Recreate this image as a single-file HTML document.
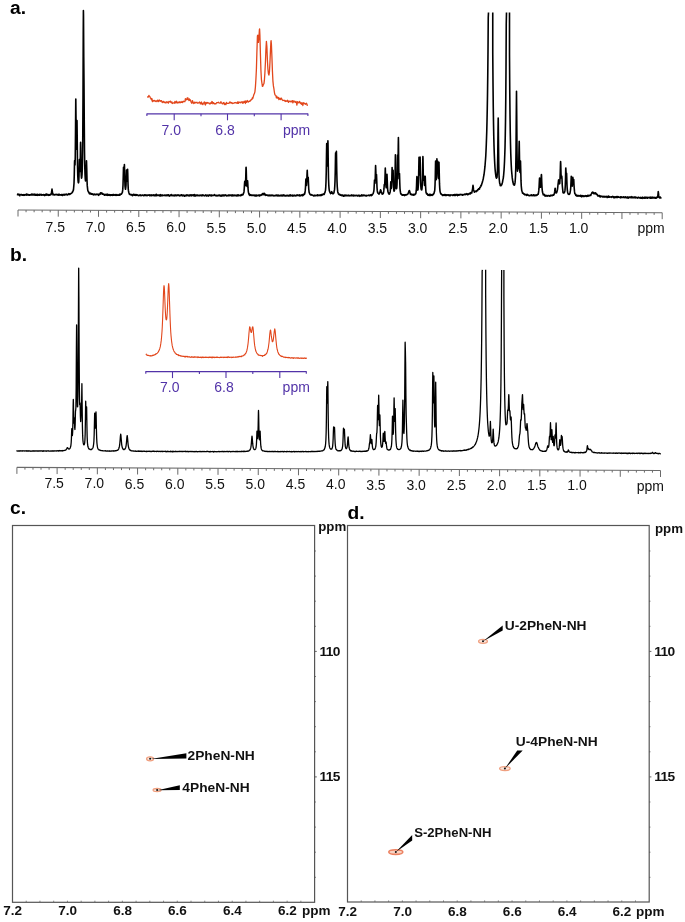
<!DOCTYPE html><html><head><meta charset="utf-8"><style>html,body{margin:0;padding:0;background:#fff}svg{display:block;will-change:transform}text{font-family:"Liberation Sans",sans-serif}</style></head><body>
<svg width="685" height="922" viewBox="0 0 685 922">
<text x="10.1" y="13.7" font-size="19.2" font-weight="bold" fill="#000">a.</text>
<text x="10.1" y="260.8" font-size="19.2" font-weight="bold" fill="#000">b.</text>
<text x="10.1" y="514.4" font-size="19.2" font-weight="bold" fill="#000">c.</text>
<text x="347.5" y="518.9" font-size="19.2" font-weight="bold" fill="#000">d.</text>
<line x1="18.00" y1="210.00" x2="662.20" y2="212.70" stroke="#6a6a6a" stroke-width="1.1"/>
<line x1="18.00" y1="210.00" x2="18.00" y2="216.50" stroke="#6a6a6a" stroke-width="1"/>
<line x1="26.05" y1="210.03" x2="26.05" y2="212.23" stroke="#6a6a6a" stroke-width="1"/>
<line x1="34.11" y1="210.07" x2="34.11" y2="212.27" stroke="#6a6a6a" stroke-width="1"/>
<line x1="42.16" y1="210.10" x2="42.16" y2="212.30" stroke="#6a6a6a" stroke-width="1"/>
<line x1="50.21" y1="210.13" x2="50.21" y2="212.33" stroke="#6a6a6a" stroke-width="1"/>
<line x1="58.26" y1="210.17" x2="58.26" y2="216.67" stroke="#6a6a6a" stroke-width="1"/>
<text x="55.26" y="232.10" font-size="14" text-anchor="middle" fill="#111">7.5</text>
<line x1="66.31" y1="210.20" x2="66.31" y2="212.40" stroke="#6a6a6a" stroke-width="1"/>
<line x1="74.37" y1="210.24" x2="74.37" y2="212.44" stroke="#6a6a6a" stroke-width="1"/>
<line x1="82.42" y1="210.27" x2="82.42" y2="212.47" stroke="#6a6a6a" stroke-width="1"/>
<line x1="90.47" y1="210.30" x2="90.47" y2="212.50" stroke="#6a6a6a" stroke-width="1"/>
<line x1="98.53" y1="210.34" x2="98.53" y2="216.84" stroke="#6a6a6a" stroke-width="1"/>
<text x="95.53" y="232.20" font-size="14" text-anchor="middle" fill="#111">7.0</text>
<line x1="106.58" y1="210.37" x2="106.58" y2="212.57" stroke="#6a6a6a" stroke-width="1"/>
<line x1="114.63" y1="210.41" x2="114.63" y2="212.60" stroke="#6a6a6a" stroke-width="1"/>
<line x1="122.68" y1="210.44" x2="122.68" y2="212.64" stroke="#6a6a6a" stroke-width="1"/>
<line x1="130.74" y1="210.47" x2="130.74" y2="212.67" stroke="#6a6a6a" stroke-width="1"/>
<line x1="138.79" y1="210.51" x2="138.79" y2="217.01" stroke="#6a6a6a" stroke-width="1"/>
<text x="135.79" y="232.30" font-size="14" text-anchor="middle" fill="#111">6.5</text>
<line x1="146.84" y1="210.54" x2="146.84" y2="212.74" stroke="#6a6a6a" stroke-width="1"/>
<line x1="154.89" y1="210.57" x2="154.89" y2="212.77" stroke="#6a6a6a" stroke-width="1"/>
<line x1="162.94" y1="210.61" x2="162.94" y2="212.81" stroke="#6a6a6a" stroke-width="1"/>
<line x1="171.00" y1="210.64" x2="171.00" y2="212.84" stroke="#6a6a6a" stroke-width="1"/>
<line x1="179.05" y1="210.68" x2="179.05" y2="217.18" stroke="#6a6a6a" stroke-width="1"/>
<text x="176.05" y="232.40" font-size="14" text-anchor="middle" fill="#111">6.0</text>
<line x1="187.10" y1="210.71" x2="187.10" y2="212.91" stroke="#6a6a6a" stroke-width="1"/>
<line x1="195.16" y1="210.74" x2="195.16" y2="212.94" stroke="#6a6a6a" stroke-width="1"/>
<line x1="203.21" y1="210.78" x2="203.21" y2="212.98" stroke="#6a6a6a" stroke-width="1"/>
<line x1="211.26" y1="210.81" x2="211.26" y2="213.01" stroke="#6a6a6a" stroke-width="1"/>
<line x1="219.31" y1="210.84" x2="219.31" y2="217.34" stroke="#6a6a6a" stroke-width="1"/>
<text x="216.31" y="232.50" font-size="14" text-anchor="middle" fill="#111">5.5</text>
<line x1="227.37" y1="210.88" x2="227.37" y2="213.08" stroke="#6a6a6a" stroke-width="1"/>
<line x1="235.42" y1="210.91" x2="235.42" y2="213.11" stroke="#6a6a6a" stroke-width="1"/>
<line x1="243.47" y1="210.94" x2="243.47" y2="213.14" stroke="#6a6a6a" stroke-width="1"/>
<line x1="251.52" y1="210.98" x2="251.52" y2="213.18" stroke="#6a6a6a" stroke-width="1"/>
<line x1="259.57" y1="211.01" x2="259.57" y2="217.51" stroke="#6a6a6a" stroke-width="1"/>
<text x="256.57" y="232.60" font-size="14" text-anchor="middle" fill="#111">5.0</text>
<line x1="267.63" y1="211.05" x2="267.63" y2="213.25" stroke="#6a6a6a" stroke-width="1"/>
<line x1="275.68" y1="211.08" x2="275.68" y2="213.28" stroke="#6a6a6a" stroke-width="1"/>
<line x1="283.73" y1="211.11" x2="283.73" y2="213.31" stroke="#6a6a6a" stroke-width="1"/>
<line x1="291.79" y1="211.15" x2="291.79" y2="213.35" stroke="#6a6a6a" stroke-width="1"/>
<line x1="299.84" y1="211.18" x2="299.84" y2="217.68" stroke="#6a6a6a" stroke-width="1"/>
<text x="296.84" y="232.70" font-size="14" text-anchor="middle" fill="#111">4.5</text>
<line x1="307.89" y1="211.22" x2="307.89" y2="213.41" stroke="#6a6a6a" stroke-width="1"/>
<line x1="315.94" y1="211.25" x2="315.94" y2="213.45" stroke="#6a6a6a" stroke-width="1"/>
<line x1="324.00" y1="211.28" x2="324.00" y2="213.48" stroke="#6a6a6a" stroke-width="1"/>
<line x1="332.05" y1="211.32" x2="332.05" y2="213.52" stroke="#6a6a6a" stroke-width="1"/>
<line x1="340.10" y1="211.35" x2="340.10" y2="217.85" stroke="#6a6a6a" stroke-width="1"/>
<text x="337.10" y="232.80" font-size="14" text-anchor="middle" fill="#111">4.0</text>
<line x1="348.15" y1="211.38" x2="348.15" y2="213.58" stroke="#6a6a6a" stroke-width="1"/>
<line x1="356.21" y1="211.42" x2="356.21" y2="213.62" stroke="#6a6a6a" stroke-width="1"/>
<line x1="364.26" y1="211.45" x2="364.26" y2="213.65" stroke="#6a6a6a" stroke-width="1"/>
<line x1="372.31" y1="211.48" x2="372.31" y2="213.68" stroke="#6a6a6a" stroke-width="1"/>
<line x1="380.36" y1="211.52" x2="380.36" y2="218.02" stroke="#6a6a6a" stroke-width="1"/>
<text x="377.36" y="232.90" font-size="14" text-anchor="middle" fill="#111">3.5</text>
<line x1="388.42" y1="211.55" x2="388.42" y2="213.75" stroke="#6a6a6a" stroke-width="1"/>
<line x1="396.47" y1="211.59" x2="396.47" y2="213.79" stroke="#6a6a6a" stroke-width="1"/>
<line x1="404.52" y1="211.62" x2="404.52" y2="213.82" stroke="#6a6a6a" stroke-width="1"/>
<line x1="412.57" y1="211.65" x2="412.57" y2="213.85" stroke="#6a6a6a" stroke-width="1"/>
<line x1="420.63" y1="211.69" x2="420.63" y2="218.19" stroke="#6a6a6a" stroke-width="1"/>
<text x="417.63" y="233.00" font-size="14" text-anchor="middle" fill="#111">3.0</text>
<line x1="428.68" y1="211.72" x2="428.68" y2="213.92" stroke="#6a6a6a" stroke-width="1"/>
<line x1="436.73" y1="211.75" x2="436.73" y2="213.95" stroke="#6a6a6a" stroke-width="1"/>
<line x1="444.78" y1="211.79" x2="444.78" y2="213.99" stroke="#6a6a6a" stroke-width="1"/>
<line x1="452.84" y1="211.82" x2="452.84" y2="214.02" stroke="#6a6a6a" stroke-width="1"/>
<line x1="460.89" y1="211.86" x2="460.89" y2="218.36" stroke="#6a6a6a" stroke-width="1"/>
<text x="457.89" y="233.10" font-size="14" text-anchor="middle" fill="#111">2.5</text>
<line x1="468.94" y1="211.89" x2="468.94" y2="214.09" stroke="#6a6a6a" stroke-width="1"/>
<line x1="476.99" y1="211.92" x2="476.99" y2="214.12" stroke="#6a6a6a" stroke-width="1"/>
<line x1="485.05" y1="211.96" x2="485.05" y2="214.16" stroke="#6a6a6a" stroke-width="1"/>
<line x1="493.10" y1="211.99" x2="493.10" y2="214.19" stroke="#6a6a6a" stroke-width="1"/>
<line x1="501.15" y1="212.02" x2="501.15" y2="218.52" stroke="#6a6a6a" stroke-width="1"/>
<text x="498.15" y="233.20" font-size="14" text-anchor="middle" fill="#111">2.0</text>
<line x1="509.20" y1="212.06" x2="509.20" y2="214.26" stroke="#6a6a6a" stroke-width="1"/>
<line x1="517.25" y1="212.09" x2="517.25" y2="214.29" stroke="#6a6a6a" stroke-width="1"/>
<line x1="525.31" y1="212.13" x2="525.31" y2="214.33" stroke="#6a6a6a" stroke-width="1"/>
<line x1="533.36" y1="212.16" x2="533.36" y2="214.36" stroke="#6a6a6a" stroke-width="1"/>
<line x1="541.41" y1="212.19" x2="541.41" y2="218.69" stroke="#6a6a6a" stroke-width="1"/>
<text x="538.41" y="233.30" font-size="14" text-anchor="middle" fill="#111">1.5</text>
<line x1="549.47" y1="212.23" x2="549.47" y2="214.43" stroke="#6a6a6a" stroke-width="1"/>
<line x1="557.52" y1="212.26" x2="557.52" y2="214.46" stroke="#6a6a6a" stroke-width="1"/>
<line x1="565.57" y1="212.29" x2="565.57" y2="214.49" stroke="#6a6a6a" stroke-width="1"/>
<line x1="573.62" y1="212.33" x2="573.62" y2="214.53" stroke="#6a6a6a" stroke-width="1"/>
<line x1="581.67" y1="212.36" x2="581.67" y2="218.86" stroke="#6a6a6a" stroke-width="1"/>
<text x="578.67" y="233.40" font-size="14" text-anchor="middle" fill="#111">1.0</text>
<line x1="589.73" y1="212.40" x2="589.73" y2="214.60" stroke="#6a6a6a" stroke-width="1"/>
<line x1="597.78" y1="212.43" x2="597.78" y2="214.63" stroke="#6a6a6a" stroke-width="1"/>
<line x1="605.83" y1="212.46" x2="605.83" y2="214.66" stroke="#6a6a6a" stroke-width="1"/>
<line x1="613.88" y1="212.50" x2="613.88" y2="214.70" stroke="#6a6a6a" stroke-width="1"/>
<line x1="621.94" y1="212.53" x2="621.94" y2="219.03" stroke="#6a6a6a" stroke-width="1"/>
<line x1="629.99" y1="212.56" x2="629.99" y2="214.76" stroke="#6a6a6a" stroke-width="1"/>
<line x1="638.04" y1="212.60" x2="638.04" y2="214.80" stroke="#6a6a6a" stroke-width="1"/>
<line x1="646.10" y1="212.63" x2="646.10" y2="214.83" stroke="#6a6a6a" stroke-width="1"/>
<line x1="654.15" y1="212.67" x2="654.15" y2="214.87" stroke="#6a6a6a" stroke-width="1"/>
<line x1="662.20" y1="212.70" x2="662.20" y2="219.20" stroke="#6a6a6a" stroke-width="1"/>
<text x="637.5" y="233.1" font-size="14" fill="#111">ppm</text>
<line x1="16.90" y1="467.40" x2="660.50" y2="470.50" stroke="#6a6a6a" stroke-width="1.1"/>
<line x1="16.90" y1="467.40" x2="16.90" y2="473.90" stroke="#6a6a6a" stroke-width="1"/>
<line x1="24.95" y1="467.44" x2="24.95" y2="469.64" stroke="#6a6a6a" stroke-width="1"/>
<line x1="32.99" y1="467.48" x2="32.99" y2="469.68" stroke="#6a6a6a" stroke-width="1"/>
<line x1="41.03" y1="467.52" x2="41.03" y2="469.72" stroke="#6a6a6a" stroke-width="1"/>
<line x1="49.08" y1="467.55" x2="49.08" y2="469.75" stroke="#6a6a6a" stroke-width="1"/>
<line x1="57.12" y1="467.59" x2="57.12" y2="474.09" stroke="#6a6a6a" stroke-width="1"/>
<text x="54.12" y="488.17" font-size="14" text-anchor="middle" fill="#111">7.5</text>
<line x1="65.17" y1="467.63" x2="65.17" y2="469.83" stroke="#6a6a6a" stroke-width="1"/>
<line x1="73.22" y1="467.67" x2="73.22" y2="469.87" stroke="#6a6a6a" stroke-width="1"/>
<line x1="81.26" y1="467.71" x2="81.26" y2="469.91" stroke="#6a6a6a" stroke-width="1"/>
<line x1="89.31" y1="467.75" x2="89.31" y2="469.95" stroke="#6a6a6a" stroke-width="1"/>
<line x1="97.35" y1="467.79" x2="97.35" y2="474.29" stroke="#6a6a6a" stroke-width="1"/>
<text x="94.35" y="488.34" font-size="14" text-anchor="middle" fill="#111">7.0</text>
<line x1="105.40" y1="467.83" x2="105.40" y2="470.03" stroke="#6a6a6a" stroke-width="1"/>
<line x1="113.44" y1="467.87" x2="113.44" y2="470.06" stroke="#6a6a6a" stroke-width="1"/>
<line x1="121.49" y1="467.90" x2="121.49" y2="470.10" stroke="#6a6a6a" stroke-width="1"/>
<line x1="129.53" y1="467.94" x2="129.53" y2="470.14" stroke="#6a6a6a" stroke-width="1"/>
<line x1="137.57" y1="467.98" x2="137.57" y2="474.48" stroke="#6a6a6a" stroke-width="1"/>
<text x="134.57" y="488.51" font-size="14" text-anchor="middle" fill="#111">6.5</text>
<line x1="145.62" y1="468.02" x2="145.62" y2="470.22" stroke="#6a6a6a" stroke-width="1"/>
<line x1="153.67" y1="468.06" x2="153.67" y2="470.26" stroke="#6a6a6a" stroke-width="1"/>
<line x1="161.71" y1="468.10" x2="161.71" y2="470.30" stroke="#6a6a6a" stroke-width="1"/>
<line x1="169.75" y1="468.14" x2="169.75" y2="470.34" stroke="#6a6a6a" stroke-width="1"/>
<line x1="177.80" y1="468.18" x2="177.80" y2="474.68" stroke="#6a6a6a" stroke-width="1"/>
<text x="174.80" y="488.68" font-size="14" text-anchor="middle" fill="#111">6.0</text>
<line x1="185.84" y1="468.21" x2="185.84" y2="470.41" stroke="#6a6a6a" stroke-width="1"/>
<line x1="193.89" y1="468.25" x2="193.89" y2="470.45" stroke="#6a6a6a" stroke-width="1"/>
<line x1="201.94" y1="468.29" x2="201.94" y2="470.49" stroke="#6a6a6a" stroke-width="1"/>
<line x1="209.98" y1="468.33" x2="209.98" y2="470.53" stroke="#6a6a6a" stroke-width="1"/>
<line x1="218.03" y1="468.37" x2="218.03" y2="474.87" stroke="#6a6a6a" stroke-width="1"/>
<text x="215.03" y="488.84" font-size="14" text-anchor="middle" fill="#111">5.5</text>
<line x1="226.07" y1="468.41" x2="226.07" y2="470.61" stroke="#6a6a6a" stroke-width="1"/>
<line x1="234.12" y1="468.45" x2="234.12" y2="470.65" stroke="#6a6a6a" stroke-width="1"/>
<line x1="242.16" y1="468.49" x2="242.16" y2="470.69" stroke="#6a6a6a" stroke-width="1"/>
<line x1="250.21" y1="468.52" x2="250.21" y2="470.72" stroke="#6a6a6a" stroke-width="1"/>
<line x1="258.25" y1="468.56" x2="258.25" y2="475.06" stroke="#6a6a6a" stroke-width="1"/>
<text x="255.25" y="489.01" font-size="14" text-anchor="middle" fill="#111">5.0</text>
<line x1="266.30" y1="468.60" x2="266.30" y2="470.80" stroke="#6a6a6a" stroke-width="1"/>
<line x1="274.34" y1="468.64" x2="274.34" y2="470.84" stroke="#6a6a6a" stroke-width="1"/>
<line x1="282.38" y1="468.68" x2="282.38" y2="470.88" stroke="#6a6a6a" stroke-width="1"/>
<line x1="290.43" y1="468.72" x2="290.43" y2="470.92" stroke="#6a6a6a" stroke-width="1"/>
<line x1="298.47" y1="468.76" x2="298.47" y2="475.26" stroke="#6a6a6a" stroke-width="1"/>
<text x="295.47" y="489.18" font-size="14" text-anchor="middle" fill="#111">4.5</text>
<line x1="306.52" y1="468.79" x2="306.52" y2="470.99" stroke="#6a6a6a" stroke-width="1"/>
<line x1="314.56" y1="468.83" x2="314.56" y2="471.03" stroke="#6a6a6a" stroke-width="1"/>
<line x1="322.61" y1="468.87" x2="322.61" y2="471.07" stroke="#6a6a6a" stroke-width="1"/>
<line x1="330.65" y1="468.91" x2="330.65" y2="471.11" stroke="#6a6a6a" stroke-width="1"/>
<line x1="338.70" y1="468.95" x2="338.70" y2="475.45" stroke="#6a6a6a" stroke-width="1"/>
<text x="335.70" y="489.35" font-size="14" text-anchor="middle" fill="#111">4.0</text>
<line x1="346.75" y1="468.99" x2="346.75" y2="471.19" stroke="#6a6a6a" stroke-width="1"/>
<line x1="354.79" y1="469.03" x2="354.79" y2="471.23" stroke="#6a6a6a" stroke-width="1"/>
<line x1="362.83" y1="469.07" x2="362.83" y2="471.27" stroke="#6a6a6a" stroke-width="1"/>
<line x1="370.88" y1="469.11" x2="370.88" y2="471.31" stroke="#6a6a6a" stroke-width="1"/>
<line x1="378.92" y1="469.14" x2="378.92" y2="475.64" stroke="#6a6a6a" stroke-width="1"/>
<text x="375.92" y="489.52" font-size="14" text-anchor="middle" fill="#111">3.5</text>
<line x1="386.97" y1="469.18" x2="386.97" y2="471.38" stroke="#6a6a6a" stroke-width="1"/>
<line x1="395.01" y1="469.22" x2="395.01" y2="471.42" stroke="#6a6a6a" stroke-width="1"/>
<line x1="403.06" y1="469.26" x2="403.06" y2="471.46" stroke="#6a6a6a" stroke-width="1"/>
<line x1="411.11" y1="469.30" x2="411.11" y2="471.50" stroke="#6a6a6a" stroke-width="1"/>
<line x1="419.15" y1="469.34" x2="419.15" y2="475.84" stroke="#6a6a6a" stroke-width="1"/>
<text x="416.15" y="489.69" font-size="14" text-anchor="middle" fill="#111">3.0</text>
<line x1="427.19" y1="469.38" x2="427.19" y2="471.58" stroke="#6a6a6a" stroke-width="1"/>
<line x1="435.24" y1="469.42" x2="435.24" y2="471.62" stroke="#6a6a6a" stroke-width="1"/>
<line x1="443.29" y1="469.45" x2="443.29" y2="471.65" stroke="#6a6a6a" stroke-width="1"/>
<line x1="451.33" y1="469.49" x2="451.33" y2="471.69" stroke="#6a6a6a" stroke-width="1"/>
<line x1="459.38" y1="469.53" x2="459.38" y2="476.03" stroke="#6a6a6a" stroke-width="1"/>
<text x="456.38" y="489.86" font-size="14" text-anchor="middle" fill="#111">2.5</text>
<line x1="467.42" y1="469.57" x2="467.42" y2="471.77" stroke="#6a6a6a" stroke-width="1"/>
<line x1="475.47" y1="469.61" x2="475.47" y2="471.81" stroke="#6a6a6a" stroke-width="1"/>
<line x1="483.51" y1="469.65" x2="483.51" y2="471.85" stroke="#6a6a6a" stroke-width="1"/>
<line x1="491.56" y1="469.69" x2="491.56" y2="471.89" stroke="#6a6a6a" stroke-width="1"/>
<line x1="499.60" y1="469.73" x2="499.60" y2="476.23" stroke="#6a6a6a" stroke-width="1"/>
<text x="496.60" y="490.02" font-size="14" text-anchor="middle" fill="#111">2.0</text>
<line x1="507.64" y1="469.76" x2="507.64" y2="471.96" stroke="#6a6a6a" stroke-width="1"/>
<line x1="515.69" y1="469.80" x2="515.69" y2="472.00" stroke="#6a6a6a" stroke-width="1"/>
<line x1="523.74" y1="469.84" x2="523.74" y2="472.04" stroke="#6a6a6a" stroke-width="1"/>
<line x1="531.78" y1="469.88" x2="531.78" y2="472.08" stroke="#6a6a6a" stroke-width="1"/>
<line x1="539.82" y1="469.92" x2="539.82" y2="476.42" stroke="#6a6a6a" stroke-width="1"/>
<text x="536.82" y="490.19" font-size="14" text-anchor="middle" fill="#111">1.5</text>
<line x1="547.87" y1="469.96" x2="547.87" y2="472.16" stroke="#6a6a6a" stroke-width="1"/>
<line x1="555.92" y1="470.00" x2="555.92" y2="472.20" stroke="#6a6a6a" stroke-width="1"/>
<line x1="563.96" y1="470.04" x2="563.96" y2="472.24" stroke="#6a6a6a" stroke-width="1"/>
<line x1="572.00" y1="470.07" x2="572.00" y2="472.27" stroke="#6a6a6a" stroke-width="1"/>
<line x1="580.05" y1="470.11" x2="580.05" y2="476.61" stroke="#6a6a6a" stroke-width="1"/>
<text x="577.05" y="490.36" font-size="14" text-anchor="middle" fill="#111">1.0</text>
<line x1="588.09" y1="470.15" x2="588.09" y2="472.35" stroke="#6a6a6a" stroke-width="1"/>
<line x1="596.14" y1="470.19" x2="596.14" y2="472.39" stroke="#6a6a6a" stroke-width="1"/>
<line x1="604.19" y1="470.23" x2="604.19" y2="472.43" stroke="#6a6a6a" stroke-width="1"/>
<line x1="612.23" y1="470.27" x2="612.23" y2="472.47" stroke="#6a6a6a" stroke-width="1"/>
<line x1="620.27" y1="470.31" x2="620.27" y2="476.81" stroke="#6a6a6a" stroke-width="1"/>
<line x1="628.32" y1="470.35" x2="628.32" y2="472.55" stroke="#6a6a6a" stroke-width="1"/>
<line x1="636.37" y1="470.38" x2="636.37" y2="472.58" stroke="#6a6a6a" stroke-width="1"/>
<line x1="644.41" y1="470.42" x2="644.41" y2="472.62" stroke="#6a6a6a" stroke-width="1"/>
<line x1="652.46" y1="470.46" x2="652.46" y2="472.66" stroke="#6a6a6a" stroke-width="1"/>
<line x1="660.50" y1="470.50" x2="660.50" y2="477.00" stroke="#6a6a6a" stroke-width="1"/>
<text x="636.8" y="490.9" font-size="14" fill="#111">ppm</text>
<path d="M17.50,195.39 17.75,194.01 18.00,194.90 18.25,194.60 18.50,194.64 18.75,194.71 19.00,194.17 19.25,194.71 19.50,194.52 19.75,195.78 20.00,194.85 20.25,194.68 20.50,194.70 20.75,194.58 21.00,194.47 21.25,194.67 21.50,194.93 21.75,194.71 22.00,195.07 22.25,194.73 22.50,194.79 22.75,195.25 23.00,194.95 23.25,194.64 23.50,194.74 23.75,194.95 24.00,195.37 24.25,194.71 24.50,194.72 24.75,195.09 25.00,194.53 25.25,194.71 25.50,195.06 25.75,194.97 26.00,194.82 26.25,195.00 26.50,193.95 26.75,195.10 27.00,194.51 27.25,194.30 27.50,194.88 27.75,195.01 28.00,194.67 28.25,194.48 28.50,194.81 28.75,194.79 29.00,195.23 29.25,195.03 29.50,194.86 29.75,195.14 30.00,194.74 30.25,194.53 30.50,194.98 30.75,194.98 31.00,194.74 31.25,194.57 31.50,194.88 31.75,194.06 32.00,195.02 32.25,194.96 32.50,194.32 32.75,194.83 33.00,194.52 33.25,195.04 33.50,194.20 33.75,194.54 34.00,195.03 34.25,195.16 34.50,194.17 34.75,194.67 35.00,194.91 35.25,194.63 35.50,195.29 35.75,194.46 36.00,194.92 36.25,194.50 36.50,195.24 36.75,194.81 37.00,194.71 37.25,194.30 37.50,195.32 37.75,195.05 38.00,195.05 38.25,195.16 38.50,194.92 38.75,194.63 39.00,194.58 39.25,194.58 39.50,195.23 39.75,194.38 40.00,194.64 40.25,194.72 40.50,194.89 40.75,194.99 41.00,194.45 41.25,194.30 41.50,194.82 41.75,195.19 42.00,195.05 42.25,194.89 42.50,194.73 42.75,194.91 43.00,194.75 43.25,195.06 43.50,194.58 43.75,194.86 44.00,194.78 44.25,194.98 44.50,194.88 44.75,195.58 45.00,195.26 45.25,195.26 45.50,194.20 45.75,194.71 46.00,194.63 46.25,194.97 46.50,194.12 46.75,195.16 47.00,195.12 47.25,194.41 47.50,194.50 47.75,194.55 48.00,194.80 48.25,194.97 48.50,195.38 48.75,194.70 49.00,194.98 49.25,194.78 49.50,195.24 49.75,194.91 50.00,195.06 50.25,194.28 50.50,194.47 50.75,194.16 51.00,194.64 51.25,193.98 51.50,192.82 51.75,190.83 52.00,189.15 52.25,190.75 52.50,192.62 52.75,193.92 53.00,194.92 53.25,194.32 53.50,194.35 53.75,194.24 54.00,194.24 54.25,194.83 54.50,194.95 54.75,194.72 55.00,194.83 55.25,194.77 55.50,194.78 55.75,194.29 56.00,194.62 56.25,194.79 56.50,194.52 56.75,194.62 57.00,194.51 57.25,194.66 57.50,195.02 57.75,194.64 58.00,194.71 58.25,195.00 58.50,194.95 58.75,195.26 59.00,194.12 59.25,195.00 59.50,194.60 59.75,194.78 60.00,194.99 60.25,195.06 60.50,195.04 60.75,194.77 61.00,195.20 61.25,194.63 61.50,194.67 61.75,194.95 62.00,194.53 62.25,195.34 62.50,194.99 62.75,195.33 63.00,194.66 63.25,194.55 63.50,194.71 63.75,194.87 64.00,194.46 64.25,194.74 64.50,194.61 64.75,195.09 65.00,194.39 65.25,194.89 65.50,194.37 65.75,194.26 66.00,194.32 66.25,194.16 66.50,194.54 66.75,194.79 67.00,194.50 67.25,194.62 67.50,194.90 67.75,194.46 68.00,194.41 68.25,194.23 68.50,193.80 68.75,194.47 69.00,193.67 69.25,194.34 69.50,194.09 69.75,194.37 70.00,193.94 70.25,193.64 70.50,193.91 70.75,193.53 71.00,193.53 71.25,193.46 71.50,193.25 71.75,193.05 72.00,192.63 72.25,192.54 72.50,191.61 72.75,191.75 73.00,190.83 73.25,190.68 73.50,189.48 73.75,186.50 74.00,183.48 74.25,175.99 74.50,163.23 74.60,160.66 74.75,161.73 75.00,164.85 75.25,157.57 75.50,133.38 75.75,101.09 75.80,98.93 76.00,116.45 76.25,143.56 76.50,149.09 76.75,135.72 77.00,120.48 77.25,141.86 77.50,165.00 77.75,175.45 78.00,180.13 78.25,182.37 78.50,182.87 78.75,181.81 79.00,175.57 79.25,164.11 79.40,159.45 79.50,160.79 79.75,170.70 80.00,171.55 80.25,163.56 80.50,145.30 80.60,142.19 80.75,148.65 81.00,167.63 81.25,175.52 81.50,178.19 81.75,177.53 82.00,174.89 82.25,169.67 82.50,159.30 82.75,138.97 83.00,98.82 83.25,34.21 83.40,10.61 83.50,15.26 83.75,56.26 84.00,83.97 84.25,121.51 84.50,150.96 84.75,166.09 85.00,174.00 85.25,178.61 85.50,180.88 85.75,179.97 86.00,176.55 86.25,167.93 86.50,160.87 86.75,168.98 87.00,179.95 87.25,185.65 87.50,187.89 87.75,190.22 88.00,190.97 88.25,191.36 88.50,192.10 88.75,191.97 89.00,192.57 89.25,193.53 89.50,192.92 89.75,193.91 90.00,193.48 90.25,193.93 90.50,193.75 90.75,193.16 91.00,193.74 91.25,194.04 91.50,193.71 91.75,193.71 92.00,194.27 92.25,194.02 92.50,193.74 92.75,194.09 93.00,194.59 93.25,194.22 93.50,194.67 93.75,194.87 94.00,194.45 94.25,194.12 94.50,194.09 94.75,194.49 95.00,194.78 95.25,194.61 95.50,194.70 95.75,194.41 96.00,194.65 96.25,194.42 96.50,194.47 96.75,194.18 97.00,194.09 97.25,194.41 97.50,194.22 97.75,194.25 98.00,194.72 98.25,194.47 98.50,195.35 98.75,194.71 99.00,194.20 99.25,194.56 99.50,194.36 99.75,193.96 100.00,194.38 100.25,193.69 100.50,192.84 100.75,193.83 101.00,193.23 101.25,193.72 101.50,193.01 101.60,192.85 101.75,193.68 102.00,193.00 102.25,193.54 102.50,194.10 102.75,193.88 103.00,193.99 103.25,194.18 103.50,194.52 103.75,194.13 104.00,194.64 104.25,194.69 104.50,195.28 104.75,194.52 105.00,194.39 105.25,194.92 105.50,194.61 105.75,194.84 106.00,194.82 106.25,195.15 106.50,194.62 106.75,194.80 107.00,194.08 107.25,194.59 107.50,195.33 107.75,194.67 108.00,194.67 108.25,194.53 108.50,195.07 108.75,194.96 109.00,194.55 109.25,195.12 109.50,195.00 109.75,195.15 110.00,194.74 110.25,195.45 110.50,195.06 110.75,194.90 111.00,194.79 111.25,194.87 111.50,195.20 111.75,194.87 112.00,195.27 112.25,195.13 112.50,195.36 112.75,195.20 113.00,194.93 113.25,194.38 113.50,195.04 113.75,195.19 114.00,195.00 114.25,195.12 114.50,194.80 114.75,194.83 115.00,194.66 115.25,195.35 115.50,194.98 115.75,194.78 116.00,194.52 116.25,194.87 116.50,195.34 116.75,195.04 117.00,194.67 117.25,195.31 117.50,195.30 117.75,195.15 118.00,195.08 118.25,195.17 118.50,194.97 118.75,195.01 119.00,194.52 119.25,195.17 119.50,194.75 119.75,195.24 120.00,193.97 120.25,194.73 120.50,194.73 120.75,194.24 121.00,194.35 121.25,194.28 121.50,194.01 121.75,193.37 122.00,193.05 122.25,192.74 122.50,191.72 122.75,189.38 123.00,185.29 123.25,176.52 123.50,167.31 123.75,172.33 124.00,174.73 124.25,167.86 124.40,164.47 124.50,167.07 124.75,179.08 125.00,185.83 125.25,188.00 125.50,189.26 125.75,187.73 126.00,185.51 126.25,177.69 126.50,170.12 126.75,176.88 127.00,181.30 127.25,178.73 127.50,170.44 127.60,169.34 127.75,173.28 128.00,183.46 128.25,189.02 128.50,190.91 128.75,192.24 129.00,192.96 129.25,193.93 129.50,194.19 129.75,194.51 130.00,194.28 130.25,194.37 130.50,194.77 130.75,194.48 131.00,194.91 131.25,194.94 131.50,194.56 131.75,194.78 132.00,194.81 132.25,195.39 132.50,195.67 132.75,194.89 133.00,194.94 133.25,194.27 133.50,195.04 133.75,194.99 134.00,194.68 134.25,195.25 134.50,194.56 134.75,194.97 135.00,195.09 135.25,194.68 135.50,195.32 135.75,195.39 136.00,194.66 136.25,194.66 136.50,195.27 136.75,195.09 137.00,194.74 137.25,195.02 137.50,195.08 137.75,195.07 138.00,195.37 138.25,195.24 138.50,195.66 138.75,195.55 139.00,195.34 139.25,195.47 139.50,195.54 139.75,195.36 140.00,194.78 140.25,195.41 140.50,195.18 140.75,195.65 141.00,195.19 141.25,195.32 141.50,195.27 141.75,195.68 142.00,195.23 142.25,195.10 142.50,195.27 142.75,195.05 143.00,195.23 143.25,195.18 143.50,195.27 143.75,195.77 144.00,195.07 144.25,195.20 144.50,195.14 144.75,195.40 145.00,194.85 145.25,194.99 145.50,195.19 145.75,195.37 146.00,195.19 146.25,195.06 146.50,194.95 146.75,195.37 147.00,195.65 147.25,195.31 147.50,195.27 147.75,195.35 148.00,194.94 148.25,195.13 148.50,195.14 148.75,195.31 149.00,195.22 149.25,194.86 149.50,195.57 149.75,195.74 150.00,195.15 150.25,195.35 150.50,195.31 150.75,195.47 151.00,194.79 151.25,195.72 151.50,195.10 151.75,195.62 152.00,195.27 152.25,195.13 152.50,195.20 152.75,195.52 153.00,194.99 153.25,195.14 153.50,195.11 153.75,194.74 154.00,195.64 154.25,195.43 154.50,195.25 154.75,195.61 155.00,194.97 155.25,195.24 155.50,195.78 155.75,195.56 156.00,194.60 156.25,194.26 156.50,194.95 156.75,195.58 157.00,195.13 157.25,195.20 157.50,195.45 157.75,195.01 158.00,195.34 158.25,195.51 158.50,195.41 158.75,195.39 159.00,195.10 159.25,195.43 159.50,195.15 159.75,195.67 160.00,196.05 160.25,195.06 160.50,194.63 160.75,195.16 161.00,195.40 161.25,195.60 161.50,195.61 161.75,195.05 162.00,195.05 162.25,195.67 162.50,194.96 162.75,195.62 163.00,195.23 163.25,195.53 163.50,195.51 163.75,195.53 164.00,195.54 164.25,195.00 164.50,195.39 164.75,195.31 165.00,195.40 165.25,195.67 165.50,195.22 165.75,195.09 166.00,195.09 166.25,195.21 166.50,195.53 166.75,195.07 167.00,195.66 167.25,195.40 167.50,195.25 167.75,194.91 168.00,195.39 168.25,195.52 168.50,194.79 168.75,195.68 169.00,195.81 169.25,195.42 169.50,195.47 169.75,196.05 170.00,195.69 170.25,195.05 170.50,195.32 170.75,195.28 171.00,195.28 171.25,194.62 171.50,195.56 171.75,195.14 172.00,195.38 172.25,195.29 172.50,195.59 172.75,195.25 173.00,195.10 173.25,195.50 173.50,195.76 173.75,195.24 174.00,195.75 174.25,195.42 174.50,195.18 174.75,195.80 175.00,195.10 175.25,195.65 175.50,195.20 175.75,195.48 176.00,194.98 176.25,195.10 176.50,195.67 176.75,195.41 177.00,195.36 177.25,195.22 177.50,195.49 177.75,194.93 178.00,195.02 178.25,195.31 178.50,195.11 178.75,195.15 179.00,195.34 179.25,195.32 179.50,195.29 179.75,195.86 180.00,195.67 180.25,195.73 180.50,195.36 180.75,195.21 181.00,194.93 181.25,195.26 181.50,194.74 181.75,195.19 182.00,195.60 182.25,195.86 182.50,195.66 182.75,195.11 183.00,195.52 183.25,195.14 183.50,195.62 183.75,195.34 184.00,195.63 184.25,196.15 184.50,195.66 184.75,196.08 185.00,195.43 185.25,195.28 185.50,195.78 185.75,195.90 186.00,195.22 186.25,195.41 186.50,194.96 186.75,195.33 187.00,195.65 187.25,195.36 187.50,195.22 187.75,194.97 188.00,195.50 188.25,195.63 188.50,195.57 188.75,195.47 189.00,195.01 189.25,195.92 189.50,195.38 189.75,195.35 190.00,195.62 190.25,194.75 190.50,195.38 190.75,195.36 191.00,195.51 191.25,195.81 191.50,195.55 191.75,194.86 192.00,195.30 192.25,195.47 192.50,195.45 192.75,195.02 193.00,194.91 193.25,195.58 193.50,195.51 193.75,195.41 194.00,194.90 194.25,195.95 194.50,194.55 194.75,195.31 195.00,196.04 195.25,195.37 195.50,195.49 195.75,195.07 196.00,195.83 196.25,195.03 196.50,195.50 196.75,195.46 197.00,195.11 197.25,195.69 197.50,195.00 197.75,195.22 198.00,195.42 198.25,195.30 198.50,195.57 198.75,195.71 199.00,195.34 199.25,195.27 199.50,195.28 199.75,195.32 200.00,195.68 200.25,195.37 200.50,195.56 200.75,195.41 201.00,195.18 201.25,195.70 201.50,195.13 201.75,195.44 202.00,195.89 202.25,195.11 202.50,195.43 202.75,194.97 203.00,195.29 203.25,195.00 203.50,195.34 203.75,195.29 204.00,195.49 204.25,195.92 204.50,195.53 204.75,195.65 205.00,195.44 205.25,195.38 205.50,195.20 205.75,194.91 206.00,195.48 206.25,195.94 206.50,195.60 206.75,195.30 207.00,195.95 207.25,195.33 207.50,195.27 207.75,195.10 208.00,195.17 208.25,195.39 208.50,196.06 208.75,195.40 209.00,195.16 209.25,195.28 209.50,195.40 209.75,194.95 210.00,195.51 210.25,195.68 210.50,195.56 210.75,195.65 211.00,195.08 211.25,194.96 211.50,195.86 211.75,195.80 212.00,195.01 212.25,195.53 212.50,195.48 212.75,195.63 213.00,195.53 213.25,195.32 213.50,195.53 213.75,195.52 214.00,195.46 214.25,194.92 214.50,194.57 214.75,195.24 215.00,194.98 215.25,195.55 215.50,195.69 215.75,195.55 216.00,195.36 216.25,195.50 216.50,195.82 216.75,195.26 217.00,195.75 217.25,195.69 217.50,195.55 217.75,195.91 218.00,195.26 218.25,195.76 218.50,195.20 218.75,195.25 219.00,195.16 219.25,195.61 219.50,195.19 219.75,195.49 220.00,195.14 220.25,195.80 220.50,196.03 220.75,195.55 221.00,195.97 221.25,195.65 221.50,196.13 221.75,195.51 222.00,195.01 222.25,195.92 222.50,195.44 222.75,195.17 223.00,195.28 223.25,194.99 223.50,195.43 223.75,195.16 224.00,195.92 224.25,195.68 224.50,194.98 224.75,195.02 225.00,195.31 225.25,194.90 225.50,195.44 225.75,195.46 226.00,195.24 226.25,195.31 226.50,195.63 226.75,195.90 227.00,195.92 227.25,195.49 227.50,195.73 227.75,195.25 228.00,195.60 228.25,195.19 228.50,195.69 228.75,195.10 229.00,195.18 229.25,195.47 229.50,195.64 229.75,195.04 230.00,195.31 230.25,195.51 230.50,195.54 230.75,195.22 231.00,195.50 231.25,195.39 231.50,195.89 231.75,195.63 232.00,195.07 232.25,194.80 232.50,195.49 232.75,195.81 233.00,195.51 233.25,195.72 233.50,195.31 233.75,195.04 234.00,195.67 234.25,195.48 234.50,195.65 234.75,195.03 235.00,195.49 235.25,195.25 235.50,195.67 235.75,195.25 236.00,195.24 236.25,195.24 236.50,195.80 236.75,195.42 237.00,195.18 237.25,195.09 237.50,195.08 237.75,195.82 238.00,194.83 238.25,195.11 238.50,195.55 238.75,195.70 239.00,195.29 239.25,195.56 239.50,195.53 239.75,195.58 240.00,195.28 240.25,195.74 240.50,195.28 240.75,195.65 241.00,194.83 241.25,195.40 241.50,194.69 241.75,194.55 242.00,195.08 242.25,194.58 242.50,194.84 242.75,194.22 243.00,194.81 243.25,194.01 243.50,193.19 243.75,192.81 244.00,191.65 244.25,188.49 244.50,184.10 244.70,181.63 244.75,181.30 245.00,184.14 245.25,185.65 245.50,184.18 245.75,177.42 246.00,167.88 246.10,167.22 246.25,170.06 246.50,180.21 246.75,185.12 247.00,186.36 247.25,184.78 247.50,181.62 247.60,180.77 247.75,182.70 248.00,187.92 248.25,191.04 248.50,192.61 248.75,193.47 249.00,194.35 249.25,194.81 249.50,194.03 249.75,195.47 250.00,194.87 250.25,195.30 250.50,194.79 250.75,195.17 251.00,195.19 251.25,195.20 251.50,195.46 251.75,195.42 252.00,194.96 252.25,195.25 252.50,195.52 252.75,195.53 253.00,195.23 253.25,195.26 253.50,195.31 253.75,195.04 254.00,194.99 254.25,195.85 254.50,195.27 254.75,195.42 255.00,195.17 255.25,195.79 255.50,195.93 255.75,195.34 256.00,195.56 256.25,195.18 256.50,195.94 256.75,195.68 257.00,195.15 257.25,195.77 257.50,195.50 257.75,195.51 258.00,195.49 258.25,195.17 258.50,195.20 258.75,195.54 259.00,195.32 259.25,195.03 259.50,195.91 259.75,195.21 260.00,195.08 260.25,195.00 260.50,195.37 260.75,195.40 261.00,195.12 261.25,195.23 261.50,194.42 261.75,194.64 262.00,194.47 262.25,194.45 262.50,194.42 262.75,193.48 263.00,194.87 263.25,193.58 263.40,193.92 263.50,194.08 263.75,194.16 264.00,194.13 264.25,193.37 264.50,194.10 264.75,194.82 265.00,194.46 265.25,194.55 265.50,194.26 265.75,195.41 266.00,195.27 266.25,194.91 266.50,195.18 266.75,195.23 267.00,194.96 267.25,195.24 267.50,195.42 267.75,195.53 268.00,195.76 268.25,195.41 268.50,195.27 268.75,195.54 269.00,195.24 269.25,195.07 269.50,195.79 269.75,195.34 270.00,195.50 270.25,195.67 270.50,195.14 270.75,195.67 271.00,195.62 271.25,195.46 271.50,195.61 271.75,195.27 272.00,194.84 272.25,195.42 272.50,195.23 272.75,195.77 273.00,195.59 273.25,195.36 273.50,195.53 273.75,195.93 274.00,195.86 274.25,195.63 274.50,195.65 274.75,195.44 275.00,195.49 275.25,195.71 275.50,195.50 275.75,195.62 276.00,195.20 276.25,195.03 276.50,195.03 276.75,195.41 277.00,195.94 277.25,195.89 277.50,195.24 277.75,195.07 278.00,195.78 278.25,195.68 278.50,195.13 278.75,195.86 279.00,195.60 279.25,195.94 279.50,195.65 279.75,195.81 280.00,195.64 280.25,195.26 280.50,195.48 280.75,195.35 281.00,195.80 281.25,195.25 281.50,195.09 281.75,195.76 282.00,195.89 282.25,195.98 282.50,195.88 282.75,195.10 283.00,195.34 283.25,195.39 283.50,195.55 283.75,194.91 284.00,195.55 284.25,195.64 284.50,195.27 284.75,195.59 285.00,195.91 285.25,195.57 285.50,195.87 285.75,195.86 286.00,195.68 286.25,195.67 286.50,195.44 286.75,195.92 287.00,195.41 287.25,195.34 287.50,195.76 287.75,195.33 288.00,195.68 288.25,195.87 288.50,195.58 288.75,195.58 289.00,195.83 289.25,195.78 289.50,195.09 289.75,195.16 290.00,195.95 290.25,195.67 290.50,194.92 290.75,195.14 291.00,195.55 291.25,195.25 291.50,195.69 291.75,195.57 292.00,195.69 292.25,195.19 292.50,195.73 292.75,196.13 293.00,195.30 293.25,195.93 293.50,195.83 293.75,195.73 294.00,195.52 294.25,195.18 294.50,195.27 294.75,195.76 295.00,195.82 295.25,195.89 295.50,195.81 295.75,195.79 296.00,195.39 296.25,195.15 296.50,195.57 296.75,195.66 297.00,195.53 297.25,195.04 297.50,195.34 297.75,195.05 298.00,195.53 298.25,195.16 298.50,195.42 298.75,195.56 299.00,195.50 299.25,195.86 299.50,195.11 299.75,194.77 300.00,195.70 300.25,195.83 300.50,195.82 300.75,195.46 301.00,195.52 301.25,195.37 301.50,194.92 301.75,195.11 302.00,195.40 302.25,195.04 302.50,195.73 302.75,194.64 303.00,194.91 303.25,195.29 303.50,194.66 303.75,194.36 304.00,194.11 304.25,194.04 304.50,194.34 304.75,193.43 305.00,192.50 305.25,190.44 305.50,187.39 305.75,181.46 305.90,179.03 306.00,179.65 306.25,183.83 306.50,185.42 306.75,182.23 307.00,174.92 307.20,170.82 307.25,170.21 307.50,176.60 307.75,181.10 308.00,179.03 308.20,177.38 308.25,177.98 308.50,183.83 308.75,188.99 309.00,191.26 309.25,192.93 309.50,193.12 309.75,193.72 310.00,194.33 310.25,194.39 310.50,194.91 310.75,194.82 311.00,194.77 311.25,195.08 311.50,194.92 311.75,194.66 312.00,194.83 312.25,194.97 312.50,195.10 312.75,195.29 313.00,195.56 313.25,195.47 313.50,195.85 313.75,195.72 314.00,195.29 314.25,195.85 314.50,195.72 314.75,195.23 315.00,195.47 315.25,195.71 315.50,195.45 315.75,195.69 316.00,195.50 316.25,195.59 316.50,195.29 316.75,195.49 317.00,195.27 317.25,195.58 317.50,194.86 317.75,195.46 318.00,195.73 318.25,195.52 318.50,195.33 318.75,195.49 319.00,195.06 319.25,195.05 319.50,195.18 319.75,195.23 320.00,195.54 320.25,194.96 320.50,195.51 320.75,194.71 321.00,194.92 321.25,195.11 321.50,195.42 321.75,194.85 322.00,194.34 322.25,195.05 322.50,194.84 322.75,194.44 323.00,194.36 323.25,194.34 323.50,194.44 323.75,194.43 324.00,193.56 324.25,194.41 324.50,193.33 324.75,192.73 325.00,192.33 325.25,191.12 325.50,190.18 325.75,187.11 326.00,181.75 326.25,171.96 326.50,154.15 326.70,143.61 326.75,144.24 327.00,157.08 327.25,165.99 327.50,161.00 327.75,145.51 327.90,140.90 328.00,143.59 328.25,163.80 328.50,177.93 328.75,184.55 329.00,188.09 329.25,190.24 329.50,191.18 329.75,192.12 330.00,192.29 330.25,192.48 330.50,193.62 330.75,193.01 331.00,192.94 331.25,193.18 331.50,192.42 331.70,191.65 331.75,191.68 332.00,192.42 332.25,192.80 332.50,193.59 332.75,193.59 333.00,193.57 333.25,193.62 333.50,193.36 333.75,193.29 334.00,192.58 334.25,190.65 334.50,189.88 334.75,186.56 335.00,181.34 335.25,171.77 335.50,156.15 335.60,152.92 335.75,154.87 336.00,159.13 336.25,152.92 336.40,151.31 336.50,155.00 336.75,170.75 337.00,180.90 337.25,186.59 337.50,189.60 337.75,191.89 338.00,192.63 338.25,193.32 338.50,193.92 338.75,193.82 339.00,194.33 339.25,194.54 339.50,194.27 339.75,194.69 340.00,194.97 340.25,194.57 340.50,195.21 340.75,195.26 341.00,195.40 341.25,194.91 341.50,195.21 341.75,195.65 342.00,195.49 342.25,195.04 342.50,195.37 342.75,195.75 343.00,195.32 343.25,195.48 343.50,196.15 343.75,195.38 344.00,195.38 344.25,195.12 344.50,195.24 344.75,195.89 345.00,195.41 345.25,195.11 345.50,195.19 345.75,195.48 346.00,195.72 346.25,195.27 346.50,195.71 346.75,195.36 347.00,195.62 347.25,195.67 347.50,195.70 347.75,195.39 348.00,195.48 348.25,195.68 348.50,195.15 348.75,195.59 349.00,195.69 349.25,195.86 349.50,195.53 349.75,195.49 350.00,195.59 350.25,195.33 350.50,195.49 350.75,195.68 351.00,195.64 351.25,195.25 351.50,195.46 351.75,194.93 352.00,195.80 352.25,195.41 352.50,195.64 352.75,195.24 353.00,195.54 353.25,195.70 353.50,195.86 353.75,195.16 354.00,195.82 354.25,195.52 354.50,195.34 354.75,195.72 355.00,195.48 355.25,195.48 355.50,195.36 355.75,195.64 356.00,195.59 356.25,195.52 356.50,195.29 356.75,195.42 357.00,195.70 357.25,195.96 357.50,195.57 357.75,196.00 358.00,195.57 358.25,195.25 358.50,195.76 358.75,195.28 359.00,195.69 359.25,195.89 359.50,195.48 359.75,195.54 360.00,196.31 360.25,195.64 360.50,195.65 360.75,195.80 361.00,195.54 361.25,195.54 361.50,195.68 361.75,194.85 362.00,195.99 362.25,195.24 362.50,195.23 362.75,195.72 363.00,195.56 363.25,195.18 363.50,195.61 363.75,195.20 364.00,195.33 364.25,195.09 364.50,195.29 364.75,195.65 365.00,195.57 365.25,195.62 365.50,195.80 365.75,195.50 366.00,195.31 366.25,195.42 366.50,195.99 366.75,195.50 367.00,195.58 367.25,195.45 367.50,195.54 367.75,195.59 368.00,195.45 368.25,195.39 368.50,195.19 368.75,195.16 369.00,195.52 369.25,195.60 369.50,195.64 369.75,195.35 370.00,195.06 370.25,195.47 370.50,195.43 370.75,194.76 371.00,195.41 371.25,195.29 371.50,195.55 371.75,194.63 372.00,194.49 372.25,194.98 372.50,194.05 372.75,194.15 373.00,193.74 373.25,193.31 373.50,192.33 373.75,191.60 374.00,189.59 374.25,184.78 374.50,180.13 374.75,181.85 375.00,183.10 375.25,177.85 375.50,168.16 375.60,165.53 375.75,168.93 376.00,176.07 376.25,176.78 376.50,174.46 376.75,180.50 377.00,187.21 377.25,190.68 377.50,192.08 377.75,192.97 378.00,193.04 378.25,193.39 378.50,193.41 378.75,193.82 379.00,194.08 379.25,193.67 379.50,193.21 379.75,192.36 380.00,192.07 380.25,190.96 380.50,189.80 380.60,189.78 380.75,190.35 381.00,190.94 381.25,192.60 381.50,192.82 381.75,192.98 382.00,193.44 382.25,194.21 382.50,193.49 382.75,193.93 383.00,193.63 383.25,193.55 383.50,192.56 383.75,190.91 384.00,188.44 384.25,184.62 384.30,184.49 384.50,184.30 384.75,184.07 385.00,177.38 385.25,168.82 385.30,168.11 385.50,173.79 385.75,182.67 386.00,186.74 386.25,187.73 386.50,185.30 386.75,179.32 387.00,174.33 387.25,180.20 387.50,186.85 387.75,190.73 388.00,192.24 388.25,192.08 388.50,193.23 388.75,193.85 389.00,193.99 389.25,193.59 389.50,194.09 389.75,193.09 390.00,192.64 390.25,191.38 390.50,187.94 390.75,182.26 390.80,181.91 391.00,184.68 391.25,188.48 391.50,187.24 391.75,182.26 392.00,170.81 392.10,167.64 392.25,172.47 392.50,181.33 392.75,181.34 393.00,172.27 393.10,170.26 393.25,175.42 393.50,185.73 393.75,189.74 394.00,191.16 394.25,190.93 394.50,190.23 394.75,187.83 395.00,180.52 395.25,162.69 395.40,154.79 395.50,159.11 395.75,178.09 396.00,186.15 396.25,188.36 396.50,188.71 396.75,188.22 397.00,184.58 397.25,177.17 397.50,159.29 397.60,155.10 397.75,159.41 398.00,164.08 398.25,146.15 398.40,137.53 398.50,142.72 398.75,168.22 399.00,178.79 399.25,178.61 399.50,173.44 399.75,182.19 400.00,188.49 400.25,190.81 400.50,192.48 400.75,193.73 401.00,193.73 401.25,194.24 401.50,194.57 401.75,194.28 402.00,195.00 402.25,195.19 402.50,195.30 402.75,195.28 403.00,194.81 403.25,194.81 403.50,194.79 403.75,194.78 404.00,194.84 404.25,195.39 404.50,195.54 404.75,194.92 405.00,195.35 405.25,194.72 405.50,194.99 405.75,194.77 406.00,194.55 406.25,195.02 406.50,194.97 406.75,194.75 407.00,194.62 407.25,194.35 407.50,194.43 407.75,194.03 408.00,193.92 408.25,192.95 408.50,192.63 408.75,191.75 409.00,191.07 409.20,190.72 409.25,190.48 409.50,190.81 409.75,191.44 410.00,192.87 410.25,193.94 410.50,194.47 410.75,193.52 411.00,194.27 411.25,194.54 411.50,194.44 411.75,194.88 412.00,194.89 412.25,194.75 412.50,194.92 412.75,194.46 413.00,194.64 413.25,194.65 413.50,195.16 413.75,194.37 414.00,194.74 414.25,194.97 414.50,194.62 414.75,194.76 415.00,194.15 415.25,194.25 415.50,194.04 415.75,193.90 416.00,192.51 416.25,190.93 416.50,186.61 416.75,179.07 416.90,176.57 417.00,177.50 417.25,184.96 417.50,188.58 417.75,190.08 418.00,189.65 418.25,186.53 418.50,182.10 418.75,169.82 419.00,157.35 419.25,166.98 419.50,174.94 419.75,171.09 420.00,159.01 420.10,156.98 420.25,163.20 420.50,178.04 420.75,185.39 421.00,188.49 421.25,189.60 421.50,189.66 421.75,189.94 422.00,188.50 422.25,185.32 422.50,178.04 422.75,162.43 422.90,156.55 423.00,158.42 423.25,173.71 423.50,180.25 423.75,179.04 424.00,176.12 424.25,180.93 424.50,185.15 424.75,185.45 425.00,179.93 425.20,176.39 425.25,176.80 425.50,184.14 425.75,189.25 426.00,192.28 426.25,192.78 426.50,193.70 426.75,193.84 427.00,194.08 427.25,193.65 427.50,193.95 427.75,195.10 428.00,195.17 428.25,194.65 428.50,194.82 428.75,195.06 429.00,194.60 429.25,195.45 429.50,194.63 429.75,194.73 430.00,194.12 430.25,195.40 430.50,194.96 430.75,195.41 431.00,194.61 431.25,194.98 431.50,194.87 431.75,194.86 432.00,195.37 432.25,195.36 432.50,195.01 432.75,194.37 433.00,194.62 433.25,194.59 433.50,194.12 433.75,193.81 434.00,193.34 434.25,192.26 434.50,191.54 434.75,190.09 435.00,185.65 435.25,177.94 435.50,164.42 435.60,161.09 435.75,165.61 436.00,176.18 436.25,179.75 436.50,175.50 436.75,163.72 436.90,158.76 437.00,160.49 437.25,170.09 437.50,169.02 437.75,162.24 437.80,161.42 438.00,168.18 438.25,177.36 438.50,178.53 438.75,170.78 439.00,162.28 439.25,173.15 439.50,183.91 439.75,188.36 440.00,191.07 440.25,192.32 440.50,192.95 440.75,193.88 441.00,193.87 441.25,193.77 441.50,194.40 441.75,194.50 442.00,194.57 442.25,194.75 442.50,195.46 442.75,194.89 443.00,195.01 443.25,194.85 443.50,195.35 443.75,194.97 444.00,194.78 444.25,194.68 444.50,195.22 444.75,195.31 445.00,194.62 445.25,194.90 445.50,195.32 445.75,195.44 446.00,194.75 446.25,195.03 446.50,195.41 446.75,195.00 447.00,195.03 447.25,195.01 447.50,194.78 447.75,195.19 448.00,195.27 448.25,194.76 448.50,195.21 448.75,195.51 449.00,195.24 449.25,195.46 449.50,195.01 449.75,195.58 450.00,194.93 450.25,195.73 450.50,195.03 450.75,194.95 451.00,194.89 451.25,195.03 451.50,195.00 451.75,194.94 452.00,195.04 452.25,195.34 452.50,195.40 452.75,195.03 453.00,195.49 453.25,194.82 453.50,194.80 453.75,194.76 454.00,195.28 454.25,194.62 454.50,194.66 454.75,195.46 455.00,195.58 455.25,195.46 455.50,194.60 455.75,195.04 456.00,195.28 456.25,195.05 456.50,194.53 456.75,194.90 457.00,194.48 457.25,194.61 457.50,195.61 457.75,195.16 458.00,194.51 458.25,194.48 458.50,195.06 458.75,194.73 459.00,195.07 459.25,194.69 459.50,194.81 459.75,194.92 460.00,194.53 460.25,194.25 460.50,194.45 460.75,194.58 461.00,194.71 461.25,194.74 461.50,194.72 461.75,194.87 462.00,194.43 462.25,195.10 462.50,195.26 462.75,194.75 463.00,194.68 463.25,194.97 463.50,194.77 463.75,194.61 464.00,194.48 464.25,194.28 464.50,194.12 464.75,194.65 465.00,194.78 465.25,194.08 465.50,194.34 465.75,194.40 466.00,194.17 466.25,194.04 466.50,194.12 466.75,193.61 467.00,194.14 467.25,194.03 467.50,194.72 467.75,194.32 468.00,193.89 468.25,193.95 468.50,194.41 468.75,194.33 469.00,193.85 469.25,193.70 469.50,193.24 469.75,193.50 470.00,193.48 470.25,193.22 470.50,193.87 470.75,192.67 471.00,193.06 471.25,193.06 471.50,192.85 471.75,192.92 472.00,191.52 472.25,190.92 472.50,189.73 472.75,187.29 473.00,185.28 473.25,186.85 473.50,189.68 473.75,190.32 474.00,191.09 474.25,191.99 474.50,192.21 474.75,192.00 475.00,191.46 475.25,191.41 475.50,191.32 475.75,191.15 476.00,191.25 476.25,191.63 476.50,191.18 476.75,190.73 477.00,190.55 477.25,190.26 477.50,190.78 477.75,189.61 478.00,190.08 478.25,189.33 478.50,189.19 478.75,188.80 479.00,189.25 479.25,188.63 479.50,189.15 479.75,187.67 480.00,187.28 480.25,187.38 480.50,186.94 480.75,186.22 481.00,185.19 481.25,185.68 481.50,184.82 481.75,184.13 482.00,183.12 482.25,182.73 482.50,181.52 482.75,180.78 483.00,179.69 483.25,178.99 483.50,177.22 483.75,175.87 484.00,174.74 484.25,172.73 484.50,170.68 484.75,168.38 485.00,166.19 485.25,162.79 485.50,159.75 485.75,156.30 486.00,151.21 486.25,145.43 486.50,138.83 486.75,131.42 487.00,121.47 487.25,109.55 487.50,94.95 487.75,75.82 488.00,51.53 488.25,17.46 488.50,12.42M492.75,12.44 492.75,52.44 493.00,83.07 493.25,106.02 493.50,122.60 493.75,135.74 494.00,145.48 494.25,152.87 494.50,158.87 494.75,163.84 495.00,167.99 495.25,170.99 495.50,173.20 495.75,175.20 496.00,177.05 496.25,177.10 496.50,178.27 496.75,177.71 497.00,177.33 497.25,174.10 497.50,168.31 497.75,155.12 498.00,131.18 498.20,117.93 498.25,119.33 498.50,142.56 498.75,163.37 499.00,174.93 499.25,179.23 499.50,181.79 499.75,183.61 500.00,183.66 500.25,185.55 500.50,185.44 500.75,185.09 501.00,185.84 501.25,185.12 501.50,184.68 501.75,184.70 502.00,184.07 502.25,183.06 502.50,182.25 502.75,180.74 503.00,179.34 503.25,178.37 503.50,176.46 503.75,173.69 504.00,170.59 504.25,166.51 504.50,161.72 504.75,155.23 505.00,147.89 505.25,136.32 505.50,121.75 505.75,100.68 506.00,69.64 506.25,23.86 506.50,12.50M509.50,12.52 509.50,54.19 509.75,90.72 510.00,114.20 510.25,131.74 510.50,143.77 510.75,153.14 511.00,159.85 511.25,165.31 511.50,169.73 511.75,172.62 512.00,175.08 512.25,177.93 512.50,179.62 512.75,181.26 513.00,182.63 513.25,183.33 513.50,184.49 513.75,184.64 514.00,185.00 514.25,185.27 514.50,184.96 514.75,184.10 515.00,182.88 515.25,180.30 515.50,176.12 515.75,168.22 516.00,151.81 516.25,118.86 516.50,91.26 516.75,118.96 517.00,150.77 517.25,165.38 517.50,171.17 517.75,169.94 518.00,164.36 518.10,163.27 518.25,164.78 518.50,168.46 518.75,164.02 519.00,149.59 519.20,141.29 519.25,142.16 519.50,158.04 519.75,169.74 520.00,172.44 520.25,167.33 520.50,161.04 520.75,170.38 521.00,180.66 521.25,185.84 521.50,188.34 521.75,190.58 522.00,191.31 522.25,191.75 522.50,193.15 522.75,192.59 523.00,193.29 523.25,193.35 523.50,193.79 523.75,194.11 524.00,193.84 524.25,194.19 524.50,194.30 524.75,194.14 525.00,194.88 525.25,194.67 525.50,194.60 525.75,194.56 526.00,194.72 526.25,194.92 526.50,194.79 526.75,195.35 527.00,194.25 527.25,194.42 527.50,195.02 527.75,194.58 528.00,195.15 528.25,195.00 528.50,195.40 528.75,195.38 529.00,195.67 529.25,195.58 529.50,195.70 529.75,195.50 530.00,195.68 530.25,195.53 530.50,195.22 530.75,195.04 531.00,195.06 531.25,195.58 531.50,194.73 531.75,195.51 532.00,195.24 532.25,195.70 532.50,195.54 532.75,195.26 533.00,195.49 533.25,194.80 533.50,195.57 533.75,195.62 534.00,194.93 534.25,195.73 534.50,195.42 534.75,195.50 535.00,195.00 535.25,195.59 535.50,195.55 535.75,195.33 536.00,195.00 536.25,195.47 536.50,195.54 536.75,195.20 537.00,195.26 537.25,194.63 537.50,194.65 537.75,194.44 538.00,193.97 538.25,194.18 538.50,192.54 538.75,190.70 539.00,188.43 539.25,183.30 539.50,178.61 539.60,177.95 539.75,178.71 540.00,183.32 540.25,186.19 540.50,187.24 540.75,185.54 541.00,182.23 541.25,176.18 541.40,174.46 541.50,175.00 541.75,182.12 542.00,187.34 542.25,190.30 542.50,192.05 542.75,193.14 543.00,193.64 543.25,194.82 543.50,194.64 543.75,194.39 544.00,194.81 544.25,194.37 544.50,195.45 544.75,195.57 545.00,195.95 545.25,196.10 545.50,195.29 545.75,195.70 546.00,195.89 546.25,195.86 546.50,195.50 546.75,195.91 547.00,195.83 547.25,196.11 547.50,195.70 547.75,195.65 548.00,195.57 548.25,195.62 548.50,195.50 548.75,195.63 549.00,195.88 549.25,195.87 549.50,196.12 549.75,196.05 550.00,195.90 550.25,195.35 550.50,195.85 550.75,196.02 551.00,195.25 551.25,195.29 551.50,195.31 551.75,195.25 552.00,195.43 552.25,195.19 552.50,195.53 552.75,194.98 553.00,195.21 553.25,194.98 553.50,194.68 553.75,195.05 554.00,194.40 554.25,193.98 554.50,192.71 554.75,191.18 555.00,188.87 555.10,188.27 555.25,188.35 555.50,191.21 555.75,192.50 556.00,192.89 556.25,193.02 556.50,192.80 556.75,192.41 557.00,191.39 557.25,190.71 557.50,189.45 557.75,187.27 558.00,184.71 558.25,182.86 558.50,180.52 558.60,179.93 558.75,179.99 559.00,180.70 559.25,182.68 559.50,183.83 559.75,183.55 560.00,179.31 560.25,172.37 560.50,163.39 560.60,161.52 560.75,164.15 561.00,173.52 561.25,177.84 561.50,177.48 561.75,176.07 561.80,176.27 562.00,178.74 562.25,184.97 562.50,187.73 562.75,190.20 563.00,192.58 563.25,192.24 563.50,193.02 563.75,192.72 564.00,192.94 564.25,192.62 564.50,192.25 564.75,191.64 565.00,190.17 565.25,186.23 565.50,178.72 565.75,168.08 565.80,167.96 566.00,171.27 566.25,176.12 566.50,173.35 566.60,173.35 566.75,177.33 567.00,185.10 567.25,189.45 567.50,191.42 567.75,192.77 568.00,193.61 568.25,194.08 568.50,193.93 568.75,194.12 569.00,194.37 569.25,193.84 569.50,194.28 569.75,193.68 570.00,193.11 570.25,191.53 570.50,190.17 570.75,187.32 571.00,182.04 571.25,176.27 571.30,176.41 571.50,178.88 571.75,183.96 572.00,185.74 572.25,186.13 572.50,182.03 572.75,177.88 572.80,177.20 573.00,178.87 573.25,181.43 573.50,180.02 573.70,179.49 573.75,179.58 574.00,185.15 574.25,188.47 574.50,191.41 574.75,193.28 575.00,193.75 575.25,194.23 575.50,194.20 575.75,195.35 576.00,194.62 576.25,195.49 576.50,195.51 576.75,195.81 577.00,196.06 577.25,195.47 577.50,195.49 577.75,195.69 578.00,195.30 578.25,196.10 578.50,195.76 578.75,195.95 579.00,195.59 579.25,195.95 579.50,195.78 579.75,195.96 580.00,195.66 580.25,196.31 580.50,195.83 580.75,195.27 581.00,196.24 581.25,195.97 581.50,195.80 581.75,196.83 582.00,196.07 582.25,195.69 582.50,195.92 582.75,196.22 583.00,196.04 583.25,196.49 583.50,196.44 583.75,195.88 584.00,196.14 584.25,196.32 584.50,196.00 584.75,195.98 585.00,196.38 585.25,196.25 585.50,195.69 585.75,195.94 586.00,195.97 586.25,196.05 586.50,195.86 586.75,196.46 587.00,195.75 587.25,195.69 587.50,196.05 587.75,195.28 588.00,195.62 588.25,196.07 588.50,195.44 588.75,195.52 589.00,196.03 589.25,195.76 589.50,195.55 589.75,195.49 590.00,195.07 590.25,195.20 590.50,194.84 590.75,195.41 591.00,194.54 591.25,193.94 591.50,193.66 591.75,193.30 592.00,192.51 592.25,192.40 592.50,192.95 592.75,192.07 593.00,192.44 593.25,193.11 593.50,193.45 593.75,192.84 594.00,193.68 594.25,193.15 594.50,193.70 594.75,193.25 595.00,192.92 595.25,193.17 595.50,193.16 595.75,192.93 596.00,194.08 596.25,193.66 596.50,194.47 596.75,194.31 597.00,194.22 597.25,194.69 597.50,195.22 597.75,195.65 598.00,196.14 598.25,195.77 598.50,195.77 598.75,195.59 599.00,196.03 599.25,196.21 599.50,195.52 599.75,196.63 600.00,196.63 600.25,197.02 600.50,196.10 600.75,196.42 601.00,196.45 601.25,196.08 601.50,196.25 601.75,196.23 602.00,196.71 602.25,196.70 602.50,197.00 602.75,196.49 603.00,196.21 603.25,196.78 603.50,196.78 603.75,196.88 604.00,197.07 604.25,196.53 604.50,196.96 604.75,196.43 605.00,196.79 605.25,196.97 605.50,196.74 605.75,196.85 606.00,196.37 606.25,196.61 606.50,196.86 606.75,196.46 607.00,196.58 607.25,197.57 607.50,196.93 607.75,196.61 608.00,196.56 608.25,197.29 608.50,196.04 608.75,196.78 609.00,197.07 609.25,196.72 609.50,197.05 609.75,196.59 610.00,196.91 610.25,196.93 610.50,196.93 610.75,196.97 611.00,196.95 611.25,197.28 611.50,196.87 611.75,196.78 612.00,196.88 612.25,196.88 612.50,196.52 612.75,196.41 613.00,196.58 613.25,197.08 613.50,196.80 613.75,196.89 614.00,197.88 614.25,197.36 614.50,196.97 614.75,196.85 615.00,197.46 615.25,196.82 615.50,197.43 615.75,197.24 616.00,197.49 616.25,196.86 616.50,197.35 616.75,196.54 617.00,197.04 617.25,197.42 617.50,197.32 617.75,196.56 618.00,197.32 618.25,197.26 618.50,197.11 618.75,196.92 619.00,197.06 619.25,196.98 619.50,197.44 619.75,197.30 620.00,197.49 620.25,197.38 620.50,196.79 620.75,197.23 621.00,197.83 621.25,196.86 621.50,197.29 621.75,196.97 622.00,196.95 622.25,197.28 622.50,197.50 622.75,197.46 623.00,197.38 623.25,197.53 623.50,196.76 623.75,197.50 624.00,197.38 624.25,197.21 624.50,197.27 624.75,197.02 625.00,197.64 625.25,197.06 625.50,196.85 625.75,197.30 626.00,197.13 626.25,197.29 626.50,197.77 626.75,197.28 627.00,197.37 627.25,198.02 627.50,196.92 627.75,197.46 628.00,197.71 628.25,197.82 628.50,198.04 628.75,197.18 629.00,197.56 629.25,197.36 629.50,197.26 629.75,197.18 630.00,196.96 630.25,197.51 630.50,197.64 630.75,197.10 631.00,197.66 631.25,197.27 631.50,197.13 631.75,196.65 632.00,197.78 632.25,197.67 632.50,197.37 632.75,197.35 633.00,197.08 633.25,197.64 633.50,197.47 633.75,197.65 634.00,197.55 634.25,197.08 634.50,197.04 634.75,197.64 635.00,197.01 635.25,197.61 635.50,197.81 635.75,197.15 636.00,197.75 636.25,197.57 636.50,197.72 636.75,197.38 637.00,197.57 637.25,197.71 637.50,198.14 637.75,197.82 638.00,197.75 638.25,197.22 638.50,197.72 638.75,197.41 639.00,197.61 639.25,197.71 639.50,197.93 639.75,197.83 640.00,197.71 640.25,197.64 640.50,198.07 640.75,197.39 641.00,197.68 641.25,198.08 641.50,197.61 641.75,197.92 642.00,197.94 642.25,198.28 642.50,198.02 642.75,197.18 643.00,197.68 643.25,197.78 643.50,197.94 643.75,197.81 644.00,198.26 644.25,198.03 644.50,197.34 644.75,197.50 645.00,197.07 645.25,198.22 645.50,197.66 645.75,197.66 646.00,197.22 646.25,197.57 646.50,197.83 646.75,197.58 647.00,197.58 647.25,197.51 647.50,198.30 647.75,197.53 648.00,197.26 648.25,197.54 648.50,197.59 648.75,197.67 649.00,197.63 649.25,197.36 649.50,197.64 649.75,197.82 650.00,197.28 650.25,198.31 650.50,198.22 650.75,197.16 651.00,197.60 651.25,198.02 651.50,198.12 651.75,198.26 652.00,197.15 652.25,197.38 652.50,197.56 652.75,197.89 653.00,197.39 653.25,197.85 653.50,197.86 653.75,197.94 654.00,197.33 654.25,197.78 654.50,197.74 654.75,197.59 655.00,198.11 655.25,197.62 655.50,198.14 655.75,197.51 656.00,198.19 656.25,198.15 656.50,197.37 656.75,197.67 657.00,197.57 657.25,197.02 657.50,197.26 657.75,196.53 658.00,194.37 658.25,191.67 658.30,191.74 658.50,193.37 658.75,195.65 659.00,197.34 659.25,196.95 659.50,197.56 659.75,197.92 660.00,197.89 660.25,197.13 660.50,197.63 660.75,197.71 661.00,197.71 661.25,197.98 661.50,197.97" fill="none" stroke="#000" stroke-width="1.6" stroke-linejoin="round"/>
<path d="M16.40,450.87 16.65,450.81 16.90,450.94 17.15,451.02 17.40,451.11 17.65,450.98 17.90,450.90 18.15,450.88 18.40,451.06 18.65,451.17 18.90,451.01 19.15,450.82 19.40,450.86 19.65,451.17 19.90,451.00 20.15,450.77 20.40,450.97 20.65,450.84 20.90,450.90 21.15,450.92 21.40,450.89 21.65,451.04 21.90,450.97 22.15,450.91 22.40,451.03 22.65,451.08 22.90,450.78 23.15,450.95 23.40,450.86 23.65,450.96 23.90,450.83 24.15,450.99 24.40,450.98 24.65,450.95 24.90,450.86 25.15,450.94 25.40,450.85 25.65,450.82 25.90,451.01 26.15,450.85 26.40,451.13 26.65,451.07 26.90,450.75 27.15,451.02 27.40,450.86 27.65,450.99 27.90,451.00 28.15,450.75 28.40,450.96 28.65,450.96 28.90,451.11 29.15,450.85 29.40,451.08 29.65,450.86 29.90,450.95 30.15,450.89 30.40,451.17 30.65,451.06 30.90,451.29 31.15,451.07 31.40,451.10 31.65,451.10 31.90,450.92 32.15,450.99 32.40,451.16 32.65,450.95 32.90,451.02 33.15,450.99 33.40,451.07 33.65,450.95 33.90,450.98 34.15,451.03 34.40,451.01 34.65,450.89 34.90,451.11 35.15,450.84 35.40,450.85 35.65,450.84 35.90,451.12 36.15,450.96 36.40,450.88 36.65,450.86 36.90,451.05 37.15,450.87 37.40,450.85 37.65,451.07 37.90,450.86 38.15,450.96 38.40,451.00 38.65,450.95 38.90,450.99 39.15,451.16 39.40,450.94 39.65,450.85 39.90,450.78 40.15,450.97 40.40,450.96 40.65,451.03 40.90,450.94 41.15,450.94 41.40,450.91 41.65,450.94 41.90,451.02 42.15,450.95 42.40,451.01 42.65,451.22 42.90,451.05 43.15,450.81 43.40,451.20 43.65,451.04 43.90,450.88 44.15,451.10 44.40,451.00 44.65,450.92 44.90,450.92 45.15,450.87 45.40,451.00 45.65,451.12 45.90,450.95 46.15,451.04 46.40,451.21 46.65,450.84 46.90,451.02 47.15,450.95 47.40,450.86 47.65,450.86 47.90,450.98 48.15,451.03 48.40,450.92 48.65,450.99 48.90,451.06 49.15,451.01 49.40,451.08 49.65,451.03 49.90,451.03 50.15,451.19 50.40,451.04 50.65,450.98 50.90,451.05 51.15,450.85 51.40,450.92 51.65,451.05 51.90,451.03 52.15,451.14 52.40,450.95 52.65,450.78 52.90,451.18 53.15,451.08 53.40,450.82 53.65,451.11 53.90,450.94 54.15,450.72 54.40,450.88 54.65,450.87 54.90,451.11 55.15,450.83 55.40,450.89 55.65,450.88 55.90,450.86 56.15,450.79 56.40,450.93 56.65,451.02 56.90,450.96 57.15,450.77 57.40,450.74 57.65,450.89 57.90,450.78 58.15,450.78 58.40,450.65 58.65,451.08 58.90,450.95 59.15,450.71 59.40,450.93 59.65,450.97 59.90,450.52 60.15,450.73 60.40,450.74 60.65,450.85 60.90,450.74 61.15,450.72 61.40,450.72 61.65,450.94 61.90,450.96 62.15,450.62 62.40,450.55 62.65,450.97 62.90,450.50 63.15,450.53 63.40,450.57 63.65,450.59 63.90,450.63 64.15,450.51 64.40,450.31 64.65,450.42 64.90,450.33 65.15,450.45 65.40,450.13 65.65,449.85 65.90,449.73 66.15,449.81 66.40,449.28 66.65,448.69 66.90,448.36 67.15,447.89 67.40,447.74 67.65,447.63 67.90,448.24 68.15,448.63 68.40,448.71 68.65,448.90 68.90,449.17 69.15,449.13 69.40,448.91 69.65,448.67 69.90,448.50 70.15,447.97 70.40,447.44 70.65,446.54 70.90,445.33 71.15,443.00 71.40,438.89 71.65,431.23 71.80,428.65 71.90,429.18 72.15,433.77 72.40,435.54 72.65,432.00 72.90,422.76 73.15,405.87 73.30,399.51 73.40,401.77 73.65,416.51 73.90,423.16 74.15,419.73 74.30,417.96 74.40,419.71 74.65,427.54 74.90,429.48 75.15,424.87 75.40,414.14 75.50,410.99 75.65,410.46 75.90,407.34 76.15,388.57 76.40,348.25 76.60,324.84 76.65,326.48 76.90,364.49 77.15,395.16 77.40,406.81 77.65,406.73 77.90,396.55 78.15,370.89 78.40,321.20 78.65,270.03 78.70,268.03 78.90,297.05 79.15,355.34 79.40,389.89 79.65,404.48 79.90,404.91 80.10,402.96 80.15,404.24 80.40,416.29 80.65,421.58 80.90,417.40 81.10,412.14 81.15,411.71 81.40,412.51 81.65,400.23 81.90,383.70 82.15,405.40 82.40,425.78 82.65,435.65 82.90,440.08 83.15,442.40 83.40,443.74 83.65,444.55 83.90,444.84 84.15,444.74 84.40,444.08 84.65,443.07 84.90,440.23 85.15,434.42 85.40,421.29 85.65,402.19 85.70,401.26 85.90,409.37 86.15,419.24 86.40,413.08 86.60,406.88 86.65,408.37 86.90,424.98 87.15,436.70 87.40,442.11 87.65,444.94 87.90,446.53 88.15,447.32 88.40,447.83 88.65,448.58 88.90,448.64 89.15,449.14 89.40,449.17 89.65,449.22 89.90,449.32 90.15,449.52 90.40,449.61 90.65,449.50 90.90,449.63 91.15,449.73 91.40,449.40 91.65,449.20 91.90,449.07 92.15,448.85 92.40,448.68 92.65,448.32 92.90,447.73 93.15,447.21 93.40,445.70 93.65,444.02 93.90,441.24 94.15,435.26 94.40,424.69 94.65,413.71 94.70,413.21 94.90,417.41 95.15,426.11 95.40,428.06 95.65,422.66 95.90,413.01 96.00,411.92 96.15,416.10 96.40,428.97 96.65,437.72 96.90,442.60 97.15,444.97 97.40,446.69 97.65,447.95 97.90,448.42 98.15,449.05 98.40,449.41 98.65,449.70 98.90,449.85 99.15,449.77 99.40,450.04 99.65,450.14 99.90,450.10 100.15,450.31 100.40,450.29 100.65,450.30 100.90,450.58 101.15,450.59 101.40,450.56 101.65,450.56 101.90,450.64 102.15,450.69 102.40,450.71 102.65,450.78 102.90,450.75 103.15,450.87 103.40,450.90 103.65,450.90 103.90,450.79 104.15,450.81 104.40,450.95 104.65,450.89 104.90,450.92 105.15,450.63 105.40,450.62 105.65,450.99 105.90,451.00 106.15,451.13 106.40,451.06 106.65,451.00 106.90,450.98 107.15,450.81 107.40,451.10 107.65,450.92 107.90,451.06 108.15,451.02 108.40,451.03 108.65,451.11 108.90,450.95 109.15,450.96 109.40,450.91 109.65,450.96 109.90,451.21 110.15,450.96 110.40,451.15 110.65,451.10 110.90,451.09 111.15,451.10 111.40,450.87 111.65,451.04 111.90,451.18 112.15,450.90 112.40,450.97 112.65,450.88 112.90,451.00 113.15,450.82 113.40,451.13 113.65,450.88 113.90,450.72 114.15,451.11 114.40,450.99 114.65,450.91 114.90,450.89 115.15,450.76 115.40,450.74 115.65,450.82 115.90,450.80 116.15,450.75 116.40,450.60 116.65,450.45 116.90,450.40 117.15,450.45 117.40,450.37 117.65,450.01 117.90,449.80 118.15,449.77 118.40,449.39 118.65,448.98 118.90,448.18 119.15,447.53 119.40,446.43 119.65,444.96 119.90,442.50 120.15,439.85 120.40,436.42 120.65,434.42 120.70,434.16 120.90,435.27 121.15,438.45 121.40,441.31 121.65,444.05 121.90,445.86 122.15,446.90 122.40,447.92 122.65,448.36 122.90,448.95 123.15,449.15 123.40,449.30 123.65,449.63 123.90,449.54 124.15,449.59 124.40,449.23 124.65,449.16 124.90,449.13 125.15,448.83 125.40,448.26 125.65,447.71 125.90,446.53 126.15,445.29 126.40,443.11 126.65,440.55 126.90,437.42 127.15,435.58 127.20,435.61 127.40,436.74 127.65,439.23 127.90,442.28 128.15,444.83 128.40,446.32 128.65,447.75 128.90,448.38 129.15,448.95 129.40,449.41 129.65,449.90 129.90,450.02 130.15,450.20 130.40,450.32 130.65,450.23 130.90,450.42 131.15,450.79 131.40,450.79 131.65,450.81 131.90,450.88 132.15,450.79 132.40,450.93 132.65,450.82 132.90,451.01 133.15,450.90 133.40,450.99 133.65,451.09 133.90,451.02 134.15,451.15 134.40,451.15 134.65,451.15 134.90,451.28 135.15,450.96 135.40,450.95 135.65,451.23 135.90,451.28 136.15,451.42 136.40,451.28 136.65,451.29 136.90,451.10 137.15,451.30 137.40,451.30 137.65,451.10 137.90,451.12 138.15,451.22 138.40,451.28 138.65,450.89 138.90,451.26 139.15,451.29 139.40,451.24 139.65,451.30 139.90,451.33 140.15,451.15 140.40,451.33 140.65,451.25 140.90,451.17 141.15,451.32 141.40,451.47 141.65,451.12 141.90,451.10 142.15,451.10 142.40,451.54 142.65,451.28 142.90,451.30 143.15,451.22 143.40,451.20 143.65,451.08 143.90,451.34 144.15,451.36 144.40,451.09 144.65,451.20 144.90,451.24 145.15,451.33 145.40,451.37 145.65,451.47 145.90,451.50 146.15,451.47 146.40,451.51 146.65,451.21 146.90,451.28 147.15,451.49 147.40,451.39 147.65,451.36 147.90,451.12 148.15,451.14 148.40,451.45 148.65,451.40 148.90,451.33 149.15,451.32 149.40,451.16 149.65,451.41 149.90,451.49 150.15,451.57 150.40,451.38 150.65,451.35 150.90,451.24 151.15,451.52 151.40,451.58 151.65,451.31 151.90,451.42 152.15,451.39 152.40,451.32 152.65,451.09 152.90,451.34 153.15,451.46 153.40,451.22 153.65,451.29 153.90,451.00 154.15,451.55 154.40,451.46 154.65,451.40 154.90,451.37 155.15,451.32 155.40,451.39 155.65,451.37 155.90,451.37 156.15,451.40 156.40,451.42 156.65,451.59 156.90,451.23 157.15,451.44 157.40,451.34 157.65,451.28 157.90,451.13 158.15,451.49 158.40,451.30 158.65,451.33 158.90,451.47 159.15,451.29 159.40,451.42 159.65,451.41 159.90,451.52 160.15,451.54 160.40,451.32 160.65,451.53 160.90,451.41 161.15,451.44 161.40,451.40 161.65,451.52 161.90,451.28 162.15,451.46 162.40,451.57 162.65,451.40 162.90,451.68 163.15,451.35 163.40,451.46 163.65,451.38 163.90,451.36 164.15,451.31 164.40,451.38 164.65,451.44 164.90,451.35 165.15,451.55 165.40,451.63 165.65,451.26 165.90,451.55 166.15,451.47 166.40,451.48 166.65,451.75 166.90,451.60 167.15,451.49 167.40,451.48 167.65,451.20 167.90,451.55 168.15,451.37 168.40,451.48 168.65,451.47 168.90,451.58 169.15,451.70 169.40,451.58 169.65,451.62 169.90,451.44 170.15,451.52 170.40,451.56 170.65,451.29 170.90,451.71 171.15,451.38 171.40,451.32 171.65,451.67 171.90,451.73 172.15,451.39 172.40,451.40 172.65,451.85 172.90,451.49 173.15,451.24 173.40,451.40 173.65,451.72 173.90,451.56 174.15,451.57 174.40,451.63 174.65,451.56 174.90,451.44 175.15,451.29 175.40,451.54 175.65,451.35 175.90,451.48 176.15,451.70 176.40,451.55 176.65,451.50 176.90,451.50 177.15,451.58 177.40,451.60 177.65,451.34 177.90,451.52 178.15,451.70 178.40,451.59 178.65,451.40 178.90,451.42 179.15,451.25 179.40,451.40 179.65,451.69 179.90,451.49 180.15,451.40 180.40,451.43 180.65,451.49 180.90,451.49 181.15,451.46 181.40,451.41 181.65,451.58 181.90,451.69 182.15,451.44 182.40,451.44 182.65,451.65 182.90,451.34 183.15,451.44 183.40,451.47 183.65,451.53 183.90,451.48 184.15,451.41 184.40,451.55 184.65,451.38 184.90,451.31 185.15,451.28 185.40,451.61 185.65,451.31 185.90,451.58 186.15,451.60 186.40,451.62 186.65,451.50 186.90,451.46 187.15,451.54 187.40,451.46 187.65,451.37 187.90,451.68 188.15,451.42 188.40,451.75 188.65,451.59 188.90,451.48 189.15,451.59 189.40,451.68 189.65,451.37 189.90,451.42 190.15,451.41 190.40,451.56 190.65,451.59 190.90,451.54 191.15,451.45 191.40,451.48 191.65,451.68 191.90,451.68 192.15,451.56 192.40,451.39 192.65,451.62 192.90,451.58 193.15,451.58 193.40,451.75 193.65,451.65 193.90,451.43 194.15,451.43 194.40,451.72 194.65,451.58 194.90,451.66 195.15,451.54 195.40,451.44 195.65,451.59 195.90,451.75 196.15,451.60 196.40,451.43 196.65,451.53 196.90,451.51 197.15,451.59 197.40,451.69 197.65,451.81 197.90,451.60 198.15,451.52 198.40,451.58 198.65,451.58 198.90,451.53 199.15,451.58 199.40,451.58 199.65,451.44 199.90,451.65 200.15,451.54 200.40,451.46 200.65,451.64 200.90,451.52 201.15,451.79 201.40,451.64 201.65,451.59 201.90,451.49 202.15,451.53 202.40,451.68 202.65,451.50 202.90,451.67 203.15,451.33 203.40,451.60 203.65,451.68 203.90,451.62 204.15,451.58 204.40,451.70 204.65,451.48 204.90,451.46 205.15,451.59 205.40,451.72 205.65,451.63 205.90,451.56 206.15,451.62 206.40,451.63 206.65,451.43 206.90,451.24 207.15,451.46 207.40,451.40 207.65,451.51 207.90,451.44 208.15,451.48 208.40,451.63 208.65,451.59 208.90,451.58 209.15,451.78 209.40,451.53 209.65,451.54 209.90,451.74 210.15,451.45 210.40,451.39 210.65,451.74 210.90,451.63 211.15,451.66 211.40,451.66 211.65,451.69 211.90,451.53 212.15,451.58 212.40,451.45 212.65,451.60 212.90,451.62 213.15,451.53 213.40,451.67 213.65,451.94 213.90,451.45 214.15,451.69 214.40,451.70 214.65,451.72 214.90,451.49 215.15,451.73 215.40,451.67 215.65,451.58 215.90,451.55 216.15,451.62 216.40,451.70 216.65,451.70 216.90,451.87 217.15,451.55 217.40,451.67 217.65,451.54 217.90,451.69 218.15,451.61 218.40,451.52 218.65,451.43 218.90,451.50 219.15,451.62 219.40,451.77 219.65,451.69 219.90,451.45 220.15,451.54 220.40,451.60 220.65,451.58 220.90,451.60 221.15,451.68 221.40,451.61 221.65,451.50 221.90,451.35 222.15,451.54 222.40,451.38 222.65,451.56 222.90,451.62 223.15,451.42 223.40,451.56 223.65,451.53 223.90,451.80 224.15,451.63 224.40,451.35 224.65,451.62 224.90,451.62 225.15,451.55 225.40,451.52 225.65,451.64 225.90,451.65 226.15,451.62 226.40,451.45 226.65,451.53 226.90,451.38 227.15,451.38 227.40,451.50 227.65,451.44 227.90,451.51 228.15,451.86 228.40,451.62 228.65,451.45 228.90,451.30 229.15,451.46 229.40,451.38 229.65,451.29 229.90,451.64 230.15,451.50 230.40,451.60 230.65,451.92 230.90,451.58 231.15,451.56 231.40,451.59 231.65,451.52 231.90,451.45 232.15,451.52 232.40,451.68 232.65,451.51 232.90,451.38 233.15,451.40 233.40,451.42 233.65,451.55 233.90,451.60 234.15,451.60 234.40,451.69 234.65,451.52 234.90,451.64 235.15,451.58 235.40,451.63 235.65,451.32 235.90,451.69 236.15,451.36 236.40,451.41 236.65,451.63 236.90,451.49 237.15,451.75 237.40,451.56 237.65,451.41 237.90,451.55 238.15,451.48 238.40,451.72 238.65,451.72 238.90,451.62 239.15,451.48 239.40,451.53 239.65,451.65 239.90,451.42 240.15,451.42 240.40,451.61 240.65,451.60 240.90,451.48 241.15,451.47 241.40,451.26 241.65,451.63 241.90,451.47 242.15,451.31 242.40,451.34 242.65,451.37 242.90,451.67 243.15,451.54 243.40,451.29 243.65,451.67 243.90,451.60 244.15,451.30 244.40,451.10 244.65,451.52 244.90,451.32 245.15,451.37 245.40,451.31 245.65,451.50 245.90,451.51 246.15,451.41 246.40,451.28 246.65,451.30 246.90,451.31 247.15,451.02 247.40,451.32 247.65,451.09 247.90,451.11 248.15,451.03 248.40,451.05 248.65,450.98 248.90,451.01 249.15,450.57 249.40,450.34 249.65,450.25 249.90,449.87 250.15,449.67 250.40,448.93 250.65,448.26 250.90,447.21 251.15,445.47 251.40,442.79 251.65,439.59 251.90,436.87 252.00,436.20 252.15,437.08 252.40,440.05 252.65,443.19 252.90,445.49 253.15,447.12 253.40,448.15 253.65,448.78 253.90,449.33 254.15,449.54 254.40,449.50 254.65,449.52 254.90,449.68 255.15,449.36 255.40,449.20 255.65,448.81 255.90,448.14 256.15,446.80 256.40,444.49 256.65,439.46 256.90,432.61 257.00,431.13 257.15,432.71 257.40,437.56 257.65,438.52 257.90,434.95 258.15,426.05 258.40,412.49 258.50,410.42 258.65,414.70 258.90,428.56 259.15,436.87 259.40,439.76 259.65,438.95 259.90,433.97 260.10,431.11 260.15,431.70 260.40,438.19 260.65,443.86 260.90,446.47 261.15,448.16 261.40,449.15 261.65,449.57 261.90,450.02 262.15,450.37 262.40,450.51 262.65,450.87 262.90,450.75 263.15,450.86 263.40,450.94 263.65,450.79 263.90,450.90 264.15,451.20 264.40,451.14 264.65,451.38 264.90,451.24 265.15,451.25 265.40,451.42 265.65,451.35 265.90,451.53 266.15,451.23 266.40,451.43 266.65,451.47 266.90,451.47 267.15,451.55 267.40,451.55 267.65,451.44 267.90,451.38 268.15,451.57 268.40,451.47 268.65,451.59 268.90,451.64 269.15,451.51 269.40,451.39 269.65,451.47 269.90,451.60 270.15,451.48 270.40,451.66 270.65,451.53 270.90,451.54 271.15,451.46 271.40,451.52 271.65,451.67 271.90,451.50 272.15,451.50 272.40,451.45 272.65,451.64 272.90,451.37 273.15,451.48 273.40,451.67 273.65,451.73 273.90,451.53 274.15,451.68 274.40,451.33 274.65,451.66 274.90,451.60 275.15,451.42 275.40,451.36 275.65,451.51 275.90,451.60 276.15,451.62 276.40,451.59 276.65,451.67 276.90,451.66 277.15,451.41 277.40,451.53 277.65,451.52 277.90,451.71 278.15,451.52 278.40,451.71 278.65,451.60 278.90,451.87 279.15,451.58 279.40,451.59 279.65,451.58 279.90,451.61 280.15,451.88 280.40,451.53 280.65,451.49 280.90,451.57 281.15,451.67 281.40,451.48 281.65,451.69 281.90,451.69 282.15,451.58 282.40,451.57 282.65,451.50 282.90,451.56 283.15,451.50 283.40,451.75 283.65,451.79 283.90,451.56 284.15,451.59 284.40,451.37 284.65,451.54 284.90,451.64 285.15,451.63 285.40,451.61 285.65,451.70 285.90,451.61 286.15,451.55 286.40,451.79 286.65,451.37 286.90,451.46 287.15,451.51 287.40,451.51 287.65,451.51 287.90,451.57 288.15,451.52 288.40,451.59 288.65,451.67 288.90,451.60 289.15,451.62 289.40,451.49 289.65,451.47 289.90,451.57 290.15,451.71 290.40,451.65 290.65,451.73 290.90,451.72 291.15,451.74 291.40,451.50 291.65,451.75 291.90,451.69 292.15,451.85 292.40,451.67 292.65,451.64 292.90,451.59 293.15,451.62 293.40,451.40 293.65,451.57 293.90,451.60 294.15,451.72 294.40,451.52 294.65,451.62 294.90,451.82 295.15,451.54 295.40,451.70 295.65,451.54 295.90,451.59 296.15,451.66 296.40,451.71 296.65,451.54 296.90,451.48 297.15,451.78 297.40,451.62 297.65,451.69 297.90,451.71 298.15,451.69 298.40,451.57 298.65,451.58 298.90,451.41 299.15,451.62 299.40,451.54 299.65,451.59 299.90,451.82 300.15,451.68 300.40,451.60 300.65,451.43 300.90,451.68 301.15,451.77 301.40,451.50 301.65,451.64 301.90,451.53 302.15,451.57 302.40,451.55 302.65,451.40 302.90,451.53 303.15,451.40 303.40,451.75 303.65,451.71 303.90,451.59 304.15,451.62 304.40,451.59 304.65,451.61 304.90,451.61 305.15,451.55 305.40,451.56 305.65,451.42 305.90,451.46 306.15,451.51 306.40,451.60 306.65,451.53 306.90,451.80 307.15,451.55 307.40,451.53 307.65,451.62 307.90,451.69 308.15,451.79 308.40,451.68 308.65,451.49 308.90,451.54 309.15,451.68 309.40,451.59 309.65,451.65 309.90,451.55 310.15,451.74 310.40,451.72 310.65,451.68 310.90,451.56 311.15,451.35 311.40,451.38 311.65,451.58 311.90,451.61 312.15,451.19 312.40,451.47 312.65,451.66 312.90,451.63 313.15,451.46 313.40,451.59 313.65,451.51 313.90,451.48 314.15,451.63 314.40,451.63 314.65,451.43 314.90,451.37 315.15,451.33 315.40,451.31 315.65,451.62 315.90,451.68 316.15,451.48 316.40,451.57 316.65,451.36 316.90,451.42 317.15,451.52 317.40,451.44 317.65,451.39 317.90,451.19 318.15,451.20 318.40,451.31 318.65,451.28 318.90,451.31 319.15,451.23 319.40,451.26 319.65,451.27 319.90,451.30 320.15,451.22 320.40,451.12 320.65,451.12 320.90,451.22 321.15,451.05 321.40,450.91 321.65,450.85 321.90,450.94 322.15,450.91 322.40,450.90 322.65,450.63 322.90,450.72 323.15,450.39 323.40,450.24 323.65,450.01 323.90,449.90 324.15,449.67 324.40,449.16 324.65,448.60 324.90,447.79 325.15,447.02 325.40,445.54 325.65,443.32 325.90,439.50 326.15,432.48 326.30,425.35 326.40,418.71 326.65,395.56 326.80,386.64 326.90,388.31 327.15,402.49 327.40,403.04 327.65,386.58 327.80,381.62 327.90,386.42 328.15,411.81 328.40,428.85 328.65,437.56 328.90,441.95 329.15,444.68 329.40,446.24 329.65,447.38 329.90,448.00 330.15,448.58 330.40,448.78 330.65,449.13 330.90,449.15 331.15,449.18 331.40,449.19 331.65,449.08 331.90,448.59 332.15,448.09 332.40,447.49 332.65,446.09 332.90,443.38 333.15,438.77 333.40,431.33 333.60,427.06 333.65,426.92 333.90,430.22 334.15,430.97 334.40,427.89 334.50,427.35 334.65,430.38 334.90,438.20 335.15,443.13 335.40,445.94 335.65,447.71 335.90,448.77 336.15,449.41 336.40,449.48 336.65,449.84 336.90,450.19 337.15,450.30 337.40,450.52 337.65,450.59 337.90,450.85 338.15,450.70 338.40,450.76 338.65,450.78 338.90,450.91 339.15,450.65 339.40,450.82 339.65,450.66 339.90,450.56 340.15,450.81 340.40,450.67 340.65,450.68 340.90,450.43 341.15,450.31 341.40,450.03 341.65,449.78 341.90,449.23 342.15,448.83 342.40,447.49 342.65,446.06 342.90,442.69 343.15,437.06 343.40,429.52 343.50,428.06 343.65,428.98 343.90,432.23 344.15,431.02 344.40,429.34 344.65,434.87 344.90,440.88 345.15,444.95 345.40,446.90 345.65,447.61 345.90,448.36 346.15,448.71 346.40,448.47 346.65,448.29 346.90,447.71 347.15,446.73 347.40,444.92 347.65,441.76 347.90,438.11 348.10,436.82 348.15,436.88 348.40,439.63 348.65,443.53 348.90,445.88 349.15,447.74 349.40,448.71 349.65,449.37 349.90,449.91 350.15,450.22 350.40,450.73 350.65,450.70 350.90,450.80 351.15,451.06 351.40,451.07 351.65,450.80 351.90,451.09 352.15,451.21 352.40,451.09 352.65,451.23 352.90,451.18 353.15,451.30 353.40,451.08 353.65,451.07 353.90,451.25 354.15,451.36 354.40,451.50 354.65,451.32 354.90,451.28 355.15,451.48 355.40,451.39 355.65,451.60 355.90,451.39 356.15,451.17 356.40,451.31 356.65,451.30 356.90,451.25 357.15,451.33 357.40,451.34 357.65,451.39 357.90,451.36 358.15,451.47 358.40,451.48 358.65,451.45 358.90,451.45 359.15,451.20 359.40,451.23 359.65,451.32 359.90,451.45 360.15,451.25 360.40,451.37 360.65,451.45 360.90,451.65 361.15,451.44 361.40,451.34 361.65,451.53 361.90,451.42 362.15,451.35 362.40,451.51 362.65,451.27 362.90,451.39 363.15,451.37 363.40,451.45 363.65,451.20 363.90,451.17 364.15,451.26 364.40,451.26 364.65,451.28 364.90,451.21 365.15,451.29 365.40,451.29 365.65,451.21 365.90,451.02 366.15,451.24 366.40,450.88 366.65,450.98 366.90,451.04 367.15,450.78 367.40,450.90 367.65,450.84 367.90,450.62 368.15,450.23 368.40,449.92 368.65,449.15 368.90,448.27 369.15,446.54 369.40,444.13 369.50,443.42 369.65,442.81 369.90,441.33 370.15,437.83 370.40,434.64 370.65,438.20 370.90,442.18 371.15,443.62 371.40,442.78 371.65,440.08 371.80,439.30 371.90,439.89 372.15,443.41 372.40,446.45 372.65,448.16 372.90,448.57 373.15,449.12 373.40,449.57 373.65,449.63 373.90,449.68 374.15,449.37 374.40,449.41 374.65,449.36 374.90,449.09 375.15,448.65 375.40,447.90 375.65,447.13 375.90,445.35 376.15,442.52 376.40,437.51 376.60,434.07 376.65,433.43 376.90,432.74 377.15,427.18 377.40,414.17 377.60,405.55 377.65,405.48 377.90,415.16 378.15,419.55 378.40,410.26 378.65,396.08 378.70,395.24 378.90,404.67 379.15,420.78 379.40,425.64 379.65,420.80 379.90,414.94 380.15,424.94 380.40,435.89 380.65,441.34 380.90,444.08 381.15,445.98 381.40,446.65 381.65,447.28 381.90,447.13 382.15,446.81 382.40,445.95 382.65,443.83 382.90,440.56 383.15,434.86 383.30,433.17 383.40,433.94 383.65,438.28 383.90,441.31 384.15,441.26 384.40,438.31 384.65,432.82 384.80,431.34 384.90,432.05 385.15,437.83 385.40,441.80 385.65,443.29 385.90,442.12 386.10,442.02 386.15,442.26 386.40,444.73 386.65,446.95 386.90,448.40 387.15,449.22 387.40,449.33 387.65,449.44 387.90,449.71 388.15,449.85 388.40,449.99 388.65,450.03 388.90,450.15 389.15,449.94 389.40,449.92 389.65,449.83 389.90,449.56 390.15,449.43 390.40,449.52 390.65,448.79 390.90,448.12 391.15,447.14 391.40,446.20 391.65,443.76 391.90,439.42 392.15,431.21 392.40,418.67 392.50,416.09 392.65,419.47 392.90,429.86 393.15,434.25 393.40,432.58 393.65,424.96 393.90,408.22 394.10,397.87 394.15,398.25 394.40,412.28 394.65,421.38 394.90,417.86 395.15,408.89 395.20,408.73 395.40,417.52 395.65,431.77 395.90,439.38 396.15,443.30 396.40,445.69 396.65,447.17 396.90,447.89 397.15,448.47 397.40,448.76 397.65,449.24 397.90,449.12 398.15,449.46 398.40,449.49 398.65,449.59 398.90,449.51 399.15,449.70 399.40,449.55 399.65,449.40 399.90,449.40 400.15,449.15 400.40,448.85 400.65,448.50 400.90,448.21 401.15,447.35 401.40,446.50 401.65,445.05 401.90,442.75 402.15,438.43 402.40,430.33 402.65,413.78 402.90,400.07 403.15,412.33 403.40,426.68 403.65,432.34 403.90,433.48 404.15,430.01 404.40,421.82 404.65,403.31 404.90,368.27 405.10,343.71 405.15,342.26 405.40,352.08 405.60,361.91 405.65,366.15 405.90,395.42 406.15,414.54 406.40,423.09 406.65,431.85 406.90,438.54 407.15,442.46 407.40,444.78 407.65,446.24 407.90,447.14 408.15,447.89 408.40,448.40 408.65,448.98 408.90,449.18 409.15,449.56 409.40,449.96 409.65,449.94 409.90,450.26 410.15,450.46 410.40,450.17 410.65,450.31 410.90,450.63 411.15,450.56 411.40,450.78 411.65,450.85 411.90,450.76 412.15,450.96 412.40,451.12 412.65,451.06 412.90,450.87 413.15,450.99 413.40,450.97 413.65,451.25 413.90,451.06 414.15,451.02 414.40,451.12 414.65,451.20 414.90,451.10 415.15,451.18 415.40,451.18 415.65,451.28 415.90,451.31 416.15,451.24 416.40,451.16 416.65,451.27 416.90,451.12 417.15,451.36 417.40,451.28 417.65,451.27 417.90,450.96 418.15,451.54 418.40,451.43 418.65,451.41 418.90,451.27 419.15,451.34 419.40,451.60 419.65,451.18 419.90,451.35 420.15,451.33 420.40,451.27 420.65,451.29 420.90,451.13 421.15,451.32 421.40,451.08 421.65,451.46 421.90,451.33 422.15,451.12 422.40,450.96 422.65,451.22 422.90,451.26 423.15,451.07 423.40,451.38 423.65,451.20 423.90,451.09 424.15,450.97 424.40,451.10 424.65,451.08 424.90,451.16 425.15,451.18 425.40,451.04 425.65,451.06 425.90,451.15 426.15,451.02 426.40,450.87 426.65,450.94 426.90,450.75 427.15,450.82 427.40,450.71 427.65,450.51 427.90,450.63 428.15,450.48 428.40,450.46 428.65,450.10 428.90,450.25 429.15,450.09 429.40,449.71 429.65,449.51 429.90,449.23 430.15,448.85 430.40,448.48 430.65,447.68 430.90,446.79 431.15,445.72 431.40,444.24 431.65,441.25 431.90,436.58 432.15,428.06 432.40,411.16 432.65,382.96 432.80,372.42 432.90,375.21 433.15,395.90 433.40,402.87 433.65,390.06 433.90,375.93 434.15,395.51 434.40,416.51 434.65,426.14 434.90,426.99 435.15,420.92 435.40,404.20 435.65,383.11 435.70,382.27 435.90,396.00 436.15,419.96 436.40,432.98 436.65,439.52 436.90,443.05 437.15,445.20 437.40,446.58 437.65,447.75 437.90,448.32 438.15,448.85 438.40,449.10 438.65,449.60 438.90,449.52 439.15,449.96 439.40,450.15 439.65,450.13 439.90,450.19 440.15,450.48 440.40,450.41 440.65,450.46 440.90,450.63 441.15,450.55 441.40,450.72 441.65,451.02 441.90,450.76 442.15,450.96 442.40,450.75 442.65,450.92 442.90,450.90 443.15,450.93 443.40,451.06 443.65,451.24 443.90,450.99 444.15,451.17 444.40,451.07 444.65,451.13 444.90,450.99 445.15,450.97 445.40,451.04 445.65,450.98 445.90,451.08 446.15,450.95 446.40,451.09 446.65,451.11 446.90,451.31 447.15,451.30 447.40,451.16 447.65,451.04 447.90,451.17 448.15,451.20 448.40,451.07 448.65,450.99 448.90,450.88 449.15,451.09 449.40,451.32 449.65,451.06 449.90,451.13 450.15,451.13 450.40,451.14 450.65,451.17 450.90,450.84 451.15,451.06 451.40,451.12 451.65,451.06 451.90,451.21 452.15,451.02 452.40,451.17 452.65,451.26 452.90,451.02 453.15,451.04 453.40,451.00 453.65,451.12 453.90,450.77 454.15,450.84 454.40,450.97 454.65,451.11 454.90,451.06 455.15,450.89 455.40,451.17 455.65,450.98 455.90,450.88 456.15,451.01 456.40,451.09 456.65,450.92 456.90,450.73 457.15,450.84 457.40,450.90 457.65,450.99 457.90,450.74 458.15,450.88 458.40,450.70 458.65,450.83 458.90,450.65 459.15,450.74 459.40,450.59 459.65,450.64 459.90,450.55 460.15,450.48 460.40,450.85 460.65,450.82 460.90,450.72 461.15,450.60 461.40,450.79 461.65,450.56 461.90,450.62 462.15,450.68 462.40,450.55 462.65,450.67 462.90,450.45 463.15,450.42 463.40,450.42 463.65,450.23 463.90,450.21 464.15,450.40 464.40,450.06 464.65,450.37 464.90,450.23 465.15,450.29 465.40,450.20 465.65,450.14 465.90,450.23 466.15,449.96 466.40,449.91 466.65,450.00 466.90,449.73 467.15,449.89 467.40,449.78 467.65,449.57 467.90,449.41 468.15,449.25 468.40,449.65 468.65,449.17 468.90,449.12 469.15,449.28 469.40,449.15 469.65,449.02 469.90,448.91 470.15,448.74 470.40,448.57 470.65,448.47 470.90,448.51 471.15,448.43 471.40,448.31 471.65,448.01 471.90,447.59 472.15,447.75 472.40,447.49 472.65,447.00 472.90,447.28 473.15,446.92 473.40,446.65 473.65,446.43 473.90,446.15 474.15,445.87 474.40,445.54 474.65,445.18 474.90,444.88 475.15,444.45 475.40,444.26 475.65,443.50 475.90,442.90 476.15,442.31 476.40,441.79 476.65,441.05 476.90,440.29 477.15,439.36 477.40,438.39 477.65,437.41 477.90,436.26 478.15,434.74 478.40,433.10 478.65,431.15 478.90,429.05 479.15,426.76 479.40,423.86 479.65,420.51 479.90,416.36 480.15,411.63 480.40,405.49 480.65,398.26 480.90,389.09 481.15,377.45 481.40,361.86 481.65,341.06 481.90,312.48 482.15,271.14 482.40,269.79M485.65,269.81 485.65,292.51 485.90,331.90 486.15,359.32 486.40,378.45 486.65,392.40 486.90,402.96 487.15,410.76 487.40,417.21 487.65,422.17 487.90,425.74 488.15,428.93 488.40,431.63 488.65,433.49 488.90,434.88 489.15,436.06 489.40,436.02 489.65,435.51 489.90,432.88 490.15,426.60 490.40,421.40 490.65,427.66 490.90,435.36 491.15,439.21 491.40,441.47 491.65,442.51 491.90,442.76 492.15,442.65 492.40,441.98 492.65,439.73 492.90,434.98 493.15,429.38 493.20,429.04 493.40,432.90 493.65,439.00 493.90,442.39 494.15,444.02 494.40,444.99 494.65,445.69 494.90,445.90 495.15,446.14 495.40,446.17 495.65,446.04 495.90,445.79 496.15,445.69 496.40,445.50 496.65,445.00 496.90,444.88 497.15,444.28 497.40,443.87 497.65,443.19 497.90,442.56 498.15,441.90 498.40,440.33 498.65,439.13 498.90,437.73 499.15,435.33 499.40,432.84 499.65,429.58 499.90,425.37 500.15,419.48 500.40,412.00 500.65,401.19 500.90,385.55 501.15,360.85 501.40,320.88 501.65,269.88M503.90,269.89 503.90,296.77 504.15,346.21 504.40,375.62 504.65,393.77 504.90,405.82 505.15,414.24 505.40,419.58 505.65,423.17 505.90,424.74 506.15,424.73 506.40,424.21 506.50,424.18 506.65,423.96 506.90,423.84 507.15,421.39 507.40,415.93 507.65,410.55 507.70,410.10 507.90,409.93 508.15,410.21 508.40,405.68 508.65,397.01 508.80,394.65 508.90,395.89 509.15,404.12 509.40,410.72 509.65,411.21 509.90,410.76 510.15,415.34 510.40,419.54 510.65,419.96 510.90,417.36 511.10,417.04 511.15,417.60 511.40,423.89 511.65,431.60 511.90,437.13 512.15,440.65 512.40,442.96 512.65,444.27 512.90,445.42 513.15,446.35 513.40,446.84 513.65,447.41 513.90,447.65 514.15,448.11 514.40,448.28 514.65,448.53 514.90,448.61 515.15,448.62 515.40,448.64 515.65,448.84 515.90,448.78 516.15,448.66 516.40,448.73 516.65,448.81 516.90,448.74 517.15,448.51 517.40,448.34 517.65,447.80 517.90,447.37 518.15,446.64 518.40,445.74 518.65,444.67 518.90,442.46 519.15,439.51 519.40,436.54 519.50,435.54 519.65,434.43 519.90,433.74 520.15,430.84 520.40,425.82 520.65,420.34 520.70,419.90 520.90,419.55 521.15,420.15 521.40,415.88 521.65,408.31 521.80,404.14 521.90,402.28 522.15,399.09 522.40,395.00 522.50,394.64 522.65,397.74 522.90,406.39 523.15,409.50 523.40,406.07 523.60,404.43 523.65,404.80 523.90,409.97 524.15,414.00 524.40,413.69 524.60,413.86 524.65,414.67 524.90,420.28 525.15,425.52 525.40,428.03 525.65,427.97 525.80,427.85 525.90,428.42 526.15,430.23 526.40,430.12 526.65,427.56 526.90,423.73 527.00,423.60 527.15,424.23 527.40,427.51 527.65,430.14 527.80,431.81 527.90,433.60 528.15,437.70 528.40,441.52 528.65,444.12 528.90,445.67 529.15,447.06 529.40,447.44 529.65,448.41 529.90,448.62 530.15,449.02 530.40,449.28 530.65,449.51 530.90,449.38 531.15,449.69 531.40,449.67 531.65,449.67 531.90,449.65 532.15,449.78 532.40,449.63 532.65,449.63 532.90,449.45 533.15,448.92 533.40,448.92 533.65,448.78 533.90,448.21 534.15,447.70 534.40,447.13 534.65,447.07 534.90,446.04 535.15,445.42 535.40,444.47 535.65,443.86 535.90,443.32 536.15,442.48 536.40,442.49 536.65,442.60 536.90,442.97 537.15,443.82 537.40,444.76 537.65,445.75 537.90,446.56 538.15,447.12 538.40,447.55 538.65,448.37 538.90,448.75 539.15,449.15 539.40,449.34 539.65,449.75 539.90,450.25 540.15,450.40 540.40,450.55 540.65,450.63 540.90,450.64 541.15,450.80 541.40,450.92 541.65,451.03 541.90,451.02 542.15,451.02 542.40,451.32 542.65,451.18 542.90,451.37 543.15,451.27 543.40,451.40 543.65,451.40 543.90,451.43 544.15,451.43 544.40,451.22 544.65,451.15 544.90,451.28 545.15,451.44 545.40,451.07 545.65,450.96 545.90,451.22 546.15,450.57 546.40,450.42 546.65,450.03 546.90,449.35 547.15,448.35 547.40,447.17 547.65,445.91 547.70,445.82 547.90,445.82 548.15,446.92 548.40,447.20 548.65,446.73 548.90,445.24 549.15,441.89 549.40,437.35 549.50,436.35 549.65,436.20 549.90,436.65 550.15,432.43 550.40,424.24 550.50,422.72 550.65,426.00 550.90,435.23 551.15,439.66 551.40,439.08 551.65,434.38 551.90,429.71 552.15,434.79 552.40,440.40 552.65,442.29 552.90,439.89 553.15,436.61 553.20,436.39 553.40,439.24 553.65,443.65 553.90,445.60 554.15,445.74 554.40,444.87 554.65,441.39 554.90,435.98 555.00,434.91 555.15,435.53 555.40,438.15 555.65,435.94 555.90,427.62 556.10,422.95 556.15,423.62 556.40,433.09 556.65,441.63 556.90,445.73 557.15,447.68 557.40,448.84 557.65,449.20 557.90,449.77 558.15,449.96 558.40,449.85 558.65,449.58 558.90,448.77 559.15,447.65 559.40,444.81 559.65,440.94 559.80,439.73 559.90,439.89 560.15,443.00 560.40,445.32 560.65,445.18 560.90,443.39 561.15,439.38 561.40,435.37 561.65,436.79 561.90,437.63 562.15,436.68 562.20,437.23 562.40,440.02 562.65,444.78 562.90,447.35 563.15,448.89 563.40,449.97 563.65,450.81 563.90,451.21 564.15,451.09 564.40,451.31 564.65,451.75 564.90,451.82 565.15,451.93 565.40,452.02 565.65,451.87 565.90,452.04 566.15,452.02 566.40,452.21 566.65,452.02 566.90,451.79 567.15,452.10 567.40,452.03 567.65,451.67 567.90,451.03 568.15,450.19 568.40,449.92 568.65,450.27 568.90,451.20 569.15,451.75 569.40,451.93 569.65,451.87 569.90,452.29 570.15,452.18 570.40,452.17 570.65,452.39 570.90,452.44 571.15,452.44 571.40,452.55 571.65,452.26 571.90,452.58 572.15,452.72 572.40,452.52 572.65,452.48 572.90,452.53 573.15,452.71 573.40,452.55 573.65,452.48 573.90,452.38 574.15,452.76 574.40,452.77 574.65,452.60 574.90,452.86 575.15,452.56 575.40,452.71 575.65,452.46 575.90,452.50 576.15,452.63 576.40,452.69 576.65,452.71 576.90,452.53 577.15,452.58 577.40,452.63 577.65,452.61 577.90,452.62 578.15,452.75 578.40,452.80 578.65,452.43 578.90,452.82 579.15,452.68 579.40,452.70 579.65,452.70 579.90,452.77 580.15,452.74 580.40,452.47 580.65,452.76 580.90,452.51 581.15,452.70 581.40,452.67 581.65,452.45 581.90,452.64 582.15,452.60 582.40,452.54 582.65,452.86 582.90,452.62 583.15,452.54 583.40,452.78 583.65,452.55 583.90,452.51 584.15,452.25 584.40,452.54 584.65,452.54 584.90,452.60 585.15,452.18 585.40,452.35 585.65,452.27 585.90,452.03 586.15,451.71 586.40,451.15 586.65,450.76 586.90,449.51 587.15,447.22 587.40,445.57 587.65,446.77 587.90,448.25 588.15,449.05 588.40,448.88 588.50,448.75 588.65,448.84 588.90,449.43 589.15,449.60 589.40,449.69 589.65,449.52 589.90,449.57 590.15,449.38 590.40,449.46 590.50,449.39 590.65,449.50 590.90,449.92 591.15,450.26 591.40,450.82 591.65,450.74 591.90,451.32 592.15,451.86 592.40,451.94 592.65,451.94 592.90,452.17 593.15,452.22 593.40,452.33 593.65,452.62 593.90,452.45 594.15,452.58 594.40,452.49 594.65,452.54 594.90,452.47 595.15,452.60 595.40,452.66 595.65,452.69 595.90,452.75 596.15,452.78 596.40,452.86 596.65,452.77 596.90,452.97 597.15,452.89 597.40,453.00 597.65,452.84 597.90,453.00 598.15,452.87 598.40,452.67 598.65,452.87 598.90,452.86 599.15,452.72 599.40,452.78 599.65,452.83 599.90,453.19 600.15,452.96 600.40,453.14 600.65,453.04 600.90,453.07 601.15,453.04 601.40,452.77 601.65,453.10 601.90,452.83 602.15,453.01 602.40,452.95 602.65,453.17 602.90,453.12 603.15,453.20 603.40,453.04 603.65,452.99 603.90,453.08 604.15,453.28 604.40,453.06 604.65,453.01 604.90,452.86 605.15,452.92 605.40,453.00 605.65,453.10 605.90,453.10 606.15,453.01 606.40,453.04 606.65,453.22 606.90,453.26 607.15,453.18 607.40,453.23 607.65,453.20 607.90,453.27 608.15,452.90 608.40,452.99 608.65,453.09 608.90,453.11 609.15,453.23 609.40,452.85 609.65,453.09 609.90,453.11 610.15,452.99 610.40,453.06 610.65,453.20 610.90,453.14 611.15,453.07 611.40,453.12 611.65,453.08 611.90,453.21 612.15,453.09 612.40,453.22 612.65,453.04 612.90,453.11 613.15,452.98 613.40,453.09 613.65,453.22 613.90,453.00 614.15,453.08 614.40,453.14 614.65,453.09 614.90,453.23 615.15,452.99 615.40,453.24 615.65,453.30 615.90,453.34 616.15,453.14 616.40,453.05 616.65,452.96 616.90,453.24 617.15,453.26 617.40,453.20 617.65,453.20 617.90,453.25 618.15,453.12 618.40,452.99 618.65,453.00 618.90,453.08 619.15,453.07 619.40,452.99 619.65,453.13 619.90,453.06 620.15,453.27 620.40,453.18 620.65,453.29 620.90,453.04 621.15,453.07 621.40,453.01 621.65,453.24 621.90,453.58 622.15,453.24 622.40,453.16 622.65,453.24 622.90,453.21 623.15,453.34 623.40,453.22 623.65,453.12 623.90,453.00 624.15,453.27 624.40,453.35 624.65,453.25 624.90,453.13 625.15,453.19 625.40,453.20 625.65,453.32 625.90,453.24 626.15,453.39 626.40,453.23 626.65,453.18 626.90,453.48 627.15,453.14 627.40,453.17 627.65,453.52 627.90,453.30 628.15,453.49 628.40,452.97 628.65,453.43 628.90,453.28 629.15,453.29 629.40,453.34 629.65,452.95 629.90,453.18 630.15,453.35 630.40,453.68 630.65,453.21 630.90,453.58 631.15,453.38 631.40,453.43 631.65,453.19 631.90,453.38 632.15,453.21 632.40,453.17 632.65,453.47 632.90,453.23 633.15,453.26 633.40,453.41 633.65,453.23 633.90,453.18 634.15,453.36 634.40,453.37 634.65,453.52 634.90,453.20 635.15,453.43 635.40,453.43 635.65,453.29 635.90,453.33 636.15,453.35 636.40,453.23 636.65,453.19 636.90,453.44 637.15,453.23 637.40,453.24 637.65,453.46 637.90,453.30 638.15,453.32 638.40,453.20 638.65,453.22 638.90,453.21 639.15,453.21 639.40,453.53 639.65,453.26 639.90,453.10 640.15,453.25 640.40,453.47 640.65,453.25 640.90,453.38 641.15,453.28 641.40,453.18 641.65,453.33 641.90,453.27 642.15,453.42 642.40,453.49 642.65,453.40 642.90,453.73 643.15,453.28 643.40,453.57 643.65,453.46 643.90,453.58 644.15,453.48 644.40,453.15 644.65,453.38 644.90,453.55 645.15,453.43 645.40,453.27 645.65,453.36 645.90,453.47 646.15,453.58 646.40,453.36 646.65,453.45 646.90,453.32 647.15,453.29 647.40,453.38 647.65,453.60 647.90,453.53 648.15,453.41 648.40,453.44 648.65,453.51 648.90,453.43 649.15,453.39 649.40,453.41 649.65,453.52 649.90,453.39 650.15,453.53 650.40,453.20 650.65,453.33 650.90,453.35 651.15,453.45 651.40,453.23 651.65,453.21 651.90,453.17 652.15,452.84 652.40,452.37 652.50,452.35 652.65,452.41 652.90,453.01 653.15,453.20 653.40,453.36 653.65,453.58 653.90,453.47 654.15,453.36 654.40,453.25 654.65,453.45 654.90,453.07 655.15,452.79 655.40,452.77 655.50,452.65 655.65,452.63 655.90,452.94 656.15,453.35 656.40,453.27 656.65,453.39 656.90,453.30 657.15,453.39 657.40,453.58 657.65,453.48 657.90,453.52 658.15,453.65 658.40,453.49 658.65,453.73 658.90,453.47 659.15,453.46 659.40,453.46 659.65,453.38 659.90,453.64 660.15,453.57 660.40,453.74 660.65,453.49" fill="none" stroke="#000" stroke-width="1.3" stroke-linejoin="round"/>
<line x1="146.60" y1="113.80" x2="308.20" y2="113.80" stroke="#5233a8" stroke-width="1.3"/>
<line x1="146.90" y1="113.80" x2="146.90" y2="116.00" stroke="#5233a8" stroke-width="1.1"/>
<line x1="174.20" y1="113.80" x2="174.20" y2="120.30" stroke="#5233a8" stroke-width="1.1"/>
<line x1="201.00" y1="113.80" x2="201.00" y2="116.30" stroke="#5233a8" stroke-width="1.1"/>
<line x1="227.50" y1="113.80" x2="227.50" y2="120.30" stroke="#5233a8" stroke-width="1.1"/>
<line x1="254.30" y1="113.80" x2="254.30" y2="116.30" stroke="#5233a8" stroke-width="1.1"/>
<line x1="281.10" y1="113.80" x2="281.10" y2="120.30" stroke="#5233a8" stroke-width="1.1"/>
<line x1="307.90" y1="113.80" x2="307.90" y2="116.00" stroke="#5233a8" stroke-width="1.1"/>
<text x="171.30" y="134.90" font-size="14" text-anchor="middle" fill="#5233a8">7.0</text>
<text x="225.10" y="134.90" font-size="14" text-anchor="middle" fill="#5233a8">6.8</text>
<text x="283.00" y="134.90" font-size="14" fill="#5233a8">ppm</text>
<path d="M147.40,96.42 147.90,97.21 148.40,96.91 148.90,95.41 149.40,96.09 149.90,96.63 150.40,98.17 150.90,98.41 151.40,99.72 151.90,98.49 152.40,101.63 152.90,100.45 153.40,101.11 153.90,100.56 154.40,100.45 154.90,101.15 155.40,101.49 155.90,100.79 156.40,100.90 156.90,101.60 157.40,100.50 157.90,100.08 158.40,101.58 158.90,100.85 159.40,99.99 159.90,100.88 160.40,101.21 160.90,100.74 161.40,100.58 161.90,101.80 162.40,102.51 162.90,101.73 163.40,101.41 163.90,102.33 164.40,102.65 164.90,101.95 165.40,102.61 165.90,103.01 166.40,102.09 166.90,101.65 167.40,102.54 167.90,102.48 168.40,103.14 168.90,101.37 169.40,101.85 169.90,101.74 170.40,101.08 170.90,102.49 171.40,102.80 171.90,101.87 172.40,103.47 172.90,103.06 173.40,102.93 173.90,102.76 174.40,103.19 174.90,101.48 175.40,102.94 175.90,102.93 176.40,101.15 176.90,102.73 177.40,102.27 177.90,103.03 178.40,102.10 178.90,102.39 179.40,102.62 179.90,101.66 180.40,102.70 180.90,102.09 181.40,102.43 181.90,101.54 182.40,102.59 182.90,102.03 183.40,101.21 183.90,101.53 184.40,101.66 184.90,101.65 185.40,98.67 185.90,100.04 186.40,99.30 186.90,98.60 187.30,97.85 187.40,99.55 187.90,97.83 188.40,99.57 188.90,100.58 189.40,98.89 189.90,100.32 190.40,99.96 190.90,101.46 191.40,102.69 191.90,103.30 192.40,100.64 192.90,101.71 193.40,102.80 193.90,103.56 194.40,102.79 194.90,102.00 195.40,102.85 195.90,102.67 196.40,102.59 196.90,102.23 197.40,103.12 197.90,103.10 198.40,102.83 198.90,102.76 199.40,101.99 199.90,102.62 200.40,103.90 200.90,102.87 201.40,101.95 201.90,104.04 202.40,103.44 202.90,104.64 203.40,103.11 203.90,102.72 204.40,101.99 204.90,104.07 205.40,105.01 205.90,102.48 206.40,102.61 206.90,103.55 207.40,102.48 207.90,102.90 208.40,102.84 208.90,103.25 209.40,103.93 209.90,103.13 210.40,103.80 210.90,102.80 211.40,103.36 211.90,101.51 212.40,102.03 212.90,103.71 213.40,102.67 213.90,103.55 214.40,103.52 214.90,104.10 215.40,103.72 215.90,103.87 216.40,103.03 216.90,102.58 217.40,102.56 217.90,102.74 218.40,102.25 218.90,102.69 219.40,103.03 219.90,103.28 220.40,102.84 220.90,101.65 221.40,103.03 221.90,103.25 222.40,103.89 222.90,103.51 223.40,102.59 223.90,102.52 224.40,104.57 224.90,103.62 225.40,104.42 225.90,104.64 226.40,102.43 226.90,103.32 227.40,103.37 227.90,103.44 228.40,103.42 228.90,103.16 229.40,103.13 229.90,101.86 230.40,102.86 230.90,102.41 231.40,103.06 231.90,102.60 232.40,103.41 232.90,103.55 233.40,103.15 233.90,103.14 234.40,102.96 234.90,102.54 235.40,102.74 235.90,102.48 236.40,103.12 236.90,102.82 237.40,103.23 237.90,101.78 238.40,103.42 238.90,102.15 239.40,102.15 239.90,102.52 240.40,102.22 240.90,102.83 241.40,102.15 241.90,101.74 242.40,101.86 242.90,103.44 243.40,102.44 243.90,101.48 244.40,102.30 244.90,101.06 245.40,103.48 245.90,100.88 246.40,102.26 246.90,102.18 247.40,100.54 247.90,101.69 248.40,102.03 248.90,101.44 249.40,101.06 249.90,101.32 250.40,100.43 250.90,100.21 251.40,99.44 251.90,99.50 252.40,97.70 252.90,98.21 253.40,96.21 253.90,94.40 254.40,93.60 254.90,91.85 255.40,87.12 255.90,79.32 256.40,69.23 256.90,51.81 257.40,36.87 257.50,35.67 257.90,35.20 258.40,42.41 258.90,37.81 259.40,29.70 259.60,28.99 259.90,34.97 260.40,53.60 260.90,69.81 261.40,79.34 261.90,82.98 262.40,86.29 262.90,86.11 263.40,84.33 263.90,83.88 264.40,80.17 264.90,72.75 265.40,62.69 265.90,49.73 266.40,41.35 266.90,47.11 267.40,59.99 267.90,69.03 268.40,73.48 268.90,75.10 269.40,72.42 269.90,63.17 270.40,52.10 270.90,41.88 271.10,40.73 271.40,44.29 271.90,56.51 272.40,70.58 272.90,80.82 273.40,85.90 273.90,88.73 274.40,92.28 274.90,94.60 275.40,95.25 275.90,95.53 276.40,97.85 276.90,96.34 277.40,98.11 277.90,98.08 278.40,97.50 278.90,99.55 279.40,99.10 279.90,98.13 280.40,99.66 280.90,99.08 281.40,98.16 281.90,99.24 282.40,100.10 282.90,100.52 283.40,100.30 283.90,100.34 284.40,100.77 284.90,100.37 285.40,101.52 285.90,100.85 286.40,101.05 286.90,101.33 287.40,100.22 287.90,100.56 288.40,102.33 288.90,101.51 289.40,101.13 289.90,101.67 290.40,101.13 290.90,101.77 291.40,101.14 291.90,101.91 292.40,100.59 292.90,102.84 293.40,101.52 293.90,100.79 294.40,101.87 294.90,101.83 295.40,102.29 295.90,101.40 296.40,102.63 296.90,105.13 297.40,101.53 297.90,102.82 298.40,102.41 298.90,102.86 299.40,101.43 299.90,102.00 300.40,103.28 300.90,102.98 301.40,104.31 301.90,102.63 302.40,103.36 302.90,105.48 303.40,102.80 303.90,102.76 304.40,103.49 304.90,103.55 305.40,104.29 305.90,103.82 306.40,103.23 306.90,104.02 307.40,105.91" fill="none" stroke="#e2471c" stroke-width="1.3" stroke-linejoin="round"/>
<line x1="145.50" y1="371.60" x2="306.60" y2="371.60" stroke="#5233a8" stroke-width="1.3"/>
<line x1="145.80" y1="371.60" x2="145.80" y2="373.80" stroke="#5233a8" stroke-width="1.1"/>
<line x1="172.50" y1="371.60" x2="172.50" y2="378.10" stroke="#5233a8" stroke-width="1.1"/>
<line x1="199.40" y1="371.60" x2="199.40" y2="374.10" stroke="#5233a8" stroke-width="1.1"/>
<line x1="226.00" y1="371.60" x2="226.00" y2="378.10" stroke="#5233a8" stroke-width="1.1"/>
<line x1="252.80" y1="371.60" x2="252.80" y2="374.10" stroke="#5233a8" stroke-width="1.1"/>
<line x1="279.80" y1="371.60" x2="279.80" y2="378.10" stroke="#5233a8" stroke-width="1.1"/>
<line x1="306.30" y1="371.60" x2="306.30" y2="373.80" stroke="#5233a8" stroke-width="1.1"/>
<text x="169.80" y="392.00" font-size="14" text-anchor="middle" fill="#5233a8">7.0</text>
<text x="224.00" y="392.00" font-size="14" text-anchor="middle" fill="#5233a8">6.8</text>
<text x="282.60" y="392.00" font-size="14" fill="#5233a8">ppm</text>
<path d="M146.00,354.91 146.25,354.12 146.50,354.93 146.75,354.86 147.00,355.17 147.25,355.08 147.50,355.43 147.75,355.19 148.00,355.17 148.25,355.45 148.50,355.50 148.75,355.44 149.00,355.54 149.25,355.79 149.50,355.86 149.75,355.72 150.00,355.81 150.25,355.52 150.50,356.11 150.75,355.73 151.00,355.97 151.25,355.76 151.50,355.99 151.75,355.87 152.00,355.60 152.25,355.76 152.50,355.27 152.75,355.61 153.00,355.05 153.25,355.31 153.50,355.37 153.75,355.14 154.00,354.95 154.25,354.78 154.50,354.77 154.75,354.92 155.00,354.78 155.25,354.45 155.50,354.15 155.75,354.35 156.00,353.82 156.25,353.82 156.50,353.60 156.75,353.67 157.00,353.37 157.25,353.17 157.50,352.87 157.75,352.41 158.00,352.31 158.25,352.11 158.50,351.44 158.75,351.11 159.00,350.46 159.25,350.09 159.50,349.36 159.75,348.64 160.00,347.67 160.25,346.88 160.50,345.32 160.75,343.91 161.00,342.19 161.25,340.40 161.50,337.76 161.75,334.82 162.00,331.49 162.25,327.22 162.50,321.85 162.75,315.01 163.00,308.15 163.25,300.43 163.50,293.09 163.75,287.66 164.00,285.63 164.25,286.54 164.50,290.85 164.75,297.19 165.00,303.44 165.25,309.16 165.50,313.62 165.75,317.11 166.00,319.33 166.25,319.87 166.50,319.73 166.75,318.86 167.00,316.26 167.25,312.21 167.50,307.06 167.75,301.09 168.00,294.28 168.25,288.35 168.50,284.69 168.70,283.62 168.75,284.00 169.00,286.96 169.25,293.27 169.50,301.14 169.75,308.51 170.00,315.89 170.25,322.14 170.50,327.43 170.75,331.96 171.00,335.33 171.25,337.84 171.50,340.45 171.75,342.33 172.00,343.99 172.25,345.92 172.50,346.56 172.75,347.81 173.00,348.52 173.25,349.56 173.50,350.14 173.75,350.68 174.00,351.16 174.25,351.83 174.50,351.87 174.75,352.27 175.00,352.53 175.25,353.26 175.50,353.24 175.75,353.35 176.00,353.68 176.25,354.41 176.50,354.12 176.75,354.47 177.00,354.55 177.25,354.61 177.50,354.63 177.75,354.81 178.00,354.93 178.25,354.70 178.50,355.67 178.75,355.46 179.00,355.40 179.25,355.43 179.50,355.40 179.75,355.79 180.00,355.65 180.25,355.84 180.50,355.56 180.75,355.94 181.00,356.29 181.25,355.93 181.50,356.17 181.75,356.08 182.00,356.32 182.25,356.36 182.50,356.22 182.75,356.15 183.00,356.34 183.25,356.33 183.50,356.24 183.75,356.47 184.00,356.50 184.25,356.29 184.50,356.46 184.75,357.03 185.00,356.68 185.25,356.58 185.50,357.04 185.75,356.53 186.00,356.18 186.25,356.31 186.50,356.40 186.75,356.74 187.00,356.89 187.25,356.34 187.50,356.96 187.75,356.55 188.00,356.84 188.25,356.89 188.50,356.90 188.75,356.84 189.00,356.89 189.25,356.67 189.50,356.94 189.75,357.08 190.00,357.08 190.25,357.40 190.50,357.14 190.75,357.09 191.00,357.27 191.25,357.02 191.50,356.76 191.75,356.60 192.00,357.24 192.25,357.13 192.50,357.19 192.75,356.99 193.00,357.12 193.25,357.41 193.50,357.14 193.75,356.89 194.00,357.02 194.25,357.36 194.50,356.92 194.75,356.66 195.00,356.72 195.25,356.90 195.50,357.30 195.75,357.18 196.00,357.03 196.25,356.95 196.50,357.16 196.75,357.16 197.00,357.10 197.25,357.16 197.50,357.08 197.75,357.55 198.00,356.80 198.25,357.26 198.50,357.06 198.75,357.38 199.00,357.21 199.25,357.33 199.50,357.36 199.75,357.31 200.00,357.46 200.25,357.04 200.50,357.46 200.75,357.25 201.00,357.36 201.25,357.58 201.50,357.51 201.75,357.66 202.00,356.90 202.25,357.14 202.50,357.49 202.75,357.12 203.00,357.29 203.25,357.63 203.50,357.48 203.75,357.16 204.00,357.41 204.25,357.45 204.50,357.35 204.75,357.32 205.00,357.37 205.25,357.07 205.50,357.37 205.75,357.18 206.00,357.42 206.25,357.43 206.50,357.19 206.75,357.47 207.00,357.42 207.25,357.35 207.50,357.49 207.75,357.31 208.00,357.32 208.25,357.38 208.50,357.36 208.75,357.58 209.00,356.95 209.25,357.32 209.50,357.01 209.75,357.28 210.00,357.42 210.25,357.38 210.50,357.55 210.75,357.43 211.00,356.88 211.25,357.18 211.50,357.66 211.75,357.66 212.00,357.40 212.25,357.10 212.50,357.77 212.75,357.00 213.00,357.44 213.25,357.37 213.50,357.42 213.75,357.17 214.00,357.31 214.25,357.57 214.50,357.29 214.75,357.13 215.00,357.38 215.25,357.40 215.50,357.36 215.75,357.24 216.00,357.48 216.25,357.36 216.50,357.17 216.75,357.42 217.00,357.37 217.25,357.41 217.50,357.07 217.75,357.24 218.00,357.46 218.25,357.55 218.50,357.44 218.75,357.41 219.00,357.51 219.25,357.56 219.50,357.70 219.75,357.47 220.00,357.28 220.25,357.47 220.50,357.03 220.75,357.39 221.00,357.30 221.25,357.38 221.50,357.47 221.75,357.39 222.00,357.12 222.25,357.31 222.50,357.23 222.75,357.37 223.00,357.44 223.25,357.20 223.50,357.50 223.75,357.60 224.00,357.32 224.25,357.50 224.50,357.10 224.75,357.26 225.00,357.53 225.25,357.04 225.50,357.26 225.75,357.19 226.00,357.55 226.25,357.55 226.50,357.23 226.75,357.36 227.00,356.86 227.25,357.48 227.50,357.39 227.75,357.56 228.00,356.89 228.25,357.38 228.50,357.25 228.75,356.84 229.00,357.18 229.25,357.28 229.50,357.44 229.75,357.32 230.00,357.19 230.25,357.36 230.50,357.25 230.75,357.15 231.00,357.07 231.25,357.28 231.50,357.27 231.75,357.57 232.00,357.14 232.25,357.51 232.50,357.27 232.75,357.41 233.00,357.03 233.25,357.02 233.50,357.12 233.75,357.32 234.00,357.18 234.25,357.27 234.50,357.18 234.75,357.30 235.00,357.13 235.25,356.99 235.50,357.16 235.75,357.07 236.00,357.35 236.25,356.99 236.50,357.02 236.75,356.93 237.00,357.17 237.25,357.10 237.50,357.03 237.75,356.67 238.00,356.59 238.25,356.88 238.50,356.94 238.75,357.04 239.00,356.42 239.25,356.68 239.50,356.37 239.75,356.46 240.00,356.55 240.25,356.72 240.50,356.40 240.75,356.32 241.00,356.33 241.25,356.56 241.50,356.70 241.75,355.92 242.00,356.07 242.25,355.96 242.50,356.15 242.75,355.92 243.00,356.01 243.25,355.43 243.50,355.48 243.75,355.24 244.00,354.96 244.25,354.94 244.50,354.55 244.75,354.92 245.00,354.33 245.25,353.77 245.50,353.49 245.75,353.51 246.00,352.65 246.25,352.31 246.50,351.65 246.75,350.98 247.00,350.00 247.25,348.76 247.50,347.39 247.75,345.60 248.00,344.02 248.25,341.79 248.50,339.05 248.75,336.11 249.00,332.79 249.25,330.50 249.50,327.84 249.70,326.81 249.75,326.79 250.00,327.08 250.25,328.41 250.50,329.39 250.75,331.36 251.00,332.12 251.25,332.52 251.50,332.34 251.75,331.25 252.00,329.48 252.25,327.96 252.50,327.09 252.75,326.75 252.80,326.76 253.00,327.53 253.25,329.89 253.50,332.72 253.75,335.70 254.00,338.63 254.25,341.59 254.50,343.85 254.75,345.91 255.00,347.19 255.25,348.84 255.50,349.61 255.75,350.81 256.00,351.43 256.25,351.87 256.50,352.34 256.75,352.95 257.00,353.32 257.25,353.88 257.50,353.88 257.75,353.99 258.00,354.48 258.25,355.02 258.50,355.14 258.75,354.88 259.00,355.07 259.25,355.29 259.50,355.21 259.75,355.37 260.00,355.44 260.25,355.36 260.50,355.49 260.75,355.56 261.00,355.72 261.25,355.49 261.50,355.74 261.75,355.55 262.00,355.58 262.25,355.52 262.50,356.42 262.75,355.90 263.00,355.88 263.25,355.74 263.50,355.50 263.75,355.48 264.00,355.44 264.25,355.38 264.50,355.30 264.75,355.34 265.00,354.38 265.25,354.65 265.50,354.67 265.75,354.26 266.00,354.03 266.25,354.03 266.50,353.43 266.75,353.30 267.00,352.47 267.25,351.93 267.50,351.00 267.75,349.99 268.00,349.25 268.25,348.10 268.50,346.53 268.75,344.54 269.00,342.75 269.25,340.14 269.50,337.35 269.75,334.38 270.00,332.33 270.25,330.67 270.40,330.06 270.50,329.98 270.75,330.92 271.00,332.98 271.25,335.38 271.50,337.03 271.75,338.79 272.00,339.93 272.25,341.66 272.50,341.36 272.75,341.62 273.00,340.96 273.25,340.02 273.50,338.03 273.75,335.87 274.00,333.87 274.25,331.65 274.50,330.05 274.75,328.87 274.80,329.12 275.00,329.81 275.25,331.54 275.50,334.46 275.75,337.60 276.00,340.31 276.25,342.61 276.50,345.12 276.75,347.04 277.00,348.50 277.25,349.80 277.50,350.40 277.75,351.64 278.00,352.39 278.25,352.83 278.50,353.41 278.75,353.73 279.00,354.47 279.25,354.53 279.50,354.71 279.75,355.17 280.00,355.38 280.25,355.68 280.50,355.59 280.75,355.78 281.00,356.12 281.25,356.58 281.50,356.38 281.75,356.16 282.00,356.53 282.25,356.45 282.50,356.34 282.75,356.63 283.00,356.72 283.25,356.96 283.50,357.19 283.75,357.21 284.00,357.20 284.25,357.03 284.50,357.18 284.75,357.19 285.00,357.49 285.25,357.16 285.50,357.21 285.75,357.61 286.00,357.48 286.25,357.33 286.50,357.47 286.75,357.49 287.00,357.53 287.25,357.66 287.50,357.61 287.75,357.53 288.00,357.49 288.25,357.29 288.50,357.55 288.75,357.85 289.00,357.70 289.25,357.56 289.50,357.65 289.75,357.56 290.00,357.78 290.25,358.11 290.50,358.09 290.75,357.99 291.00,357.93 291.25,357.76 291.50,357.59 291.75,357.83 292.00,357.76 292.25,358.00 292.50,357.89 292.75,357.77 293.00,357.97 293.25,358.42 293.50,357.74 293.75,358.12 294.00,358.03 294.25,357.92 294.50,357.81 294.75,357.96 295.00,358.00 295.25,358.11 295.50,358.11 295.75,358.05 296.00,357.87 296.25,358.06 296.50,357.93 296.75,357.83 297.00,358.19 297.25,357.92 297.50,357.83 297.75,358.07 298.00,357.71 298.25,358.05 298.50,358.15 298.75,358.00 299.00,358.13 299.25,358.48 299.50,358.35 299.75,358.27 300.00,358.22 300.25,358.02 300.50,358.09 300.75,358.07 301.00,358.14 301.25,358.16 301.50,358.00 301.75,358.44 302.00,357.97 302.25,358.22 302.50,358.35 302.75,358.16 303.00,358.05 303.25,358.18 303.50,358.53 303.75,358.30 304.00,358.14 304.25,358.30 304.50,358.17 304.75,357.87 305.00,358.26 305.25,358.41 305.50,358.43 305.75,358.22 306.00,357.98 306.25,358.45 306.50,358.21 306.75,358.38" fill="none" stroke="#e2471c" stroke-width="1.1" stroke-linejoin="round"/>
<rect x="12.50" y="525.50" width="302.10" height="376.80" fill="none" stroke="#555" stroke-width="1.2"/>
<line x1="26.23" y1="902.30" x2="26.23" y2="900.70" stroke="#666" stroke-width="0.8"/>
<line x1="39.96" y1="902.30" x2="39.96" y2="900.70" stroke="#666" stroke-width="0.8"/>
<line x1="53.70" y1="902.30" x2="53.70" y2="900.70" stroke="#666" stroke-width="0.8"/>
<line x1="67.43" y1="902.30" x2="67.43" y2="900.70" stroke="#666" stroke-width="0.8"/>
<line x1="81.16" y1="902.30" x2="81.16" y2="900.70" stroke="#666" stroke-width="0.8"/>
<line x1="94.89" y1="902.30" x2="94.89" y2="900.70" stroke="#666" stroke-width="0.8"/>
<line x1="108.62" y1="902.30" x2="108.62" y2="900.70" stroke="#666" stroke-width="0.8"/>
<line x1="122.35" y1="902.30" x2="122.35" y2="900.70" stroke="#666" stroke-width="0.8"/>
<line x1="136.09" y1="902.30" x2="136.09" y2="900.70" stroke="#666" stroke-width="0.8"/>
<line x1="149.82" y1="902.30" x2="149.82" y2="900.70" stroke="#666" stroke-width="0.8"/>
<line x1="163.55" y1="902.30" x2="163.55" y2="900.70" stroke="#666" stroke-width="0.8"/>
<line x1="177.28" y1="902.30" x2="177.28" y2="900.70" stroke="#666" stroke-width="0.8"/>
<line x1="191.01" y1="902.30" x2="191.01" y2="900.70" stroke="#666" stroke-width="0.8"/>
<line x1="204.75" y1="902.30" x2="204.75" y2="900.70" stroke="#666" stroke-width="0.8"/>
<line x1="218.48" y1="902.30" x2="218.48" y2="900.70" stroke="#666" stroke-width="0.8"/>
<line x1="232.21" y1="902.30" x2="232.21" y2="900.70" stroke="#666" stroke-width="0.8"/>
<line x1="245.94" y1="902.30" x2="245.94" y2="900.70" stroke="#666" stroke-width="0.8"/>
<line x1="259.67" y1="902.30" x2="259.67" y2="900.70" stroke="#666" stroke-width="0.8"/>
<line x1="273.40" y1="902.30" x2="273.40" y2="900.70" stroke="#666" stroke-width="0.8"/>
<line x1="287.14" y1="902.30" x2="287.14" y2="900.70" stroke="#666" stroke-width="0.8"/>
<line x1="300.87" y1="902.30" x2="300.87" y2="900.70" stroke="#666" stroke-width="0.8"/>
<text transform="translate(12.70,914.60) scale(1.1,1)" font-size="12.3" font-weight="bold" text-anchor="middle" fill="#111">7.2</text>
<text transform="translate(67.63,914.60) scale(1.1,1)" font-size="12.3" font-weight="bold" text-anchor="middle" fill="#111">7.0</text>
<text transform="translate(122.55,914.60) scale(1.1,1)" font-size="12.3" font-weight="bold" text-anchor="middle" fill="#111">6.8</text>
<text transform="translate(177.48,914.60) scale(1.1,1)" font-size="12.3" font-weight="bold" text-anchor="middle" fill="#111">6.6</text>
<text transform="translate(232.41,914.60) scale(1.1,1)" font-size="12.3" font-weight="bold" text-anchor="middle" fill="#111">6.4</text>
<text transform="translate(287.34,914.60) scale(1.1,1)" font-size="12.3" font-weight="bold" text-anchor="middle" fill="#111">6.2</text>
<text transform="translate(302.00,914.60) scale(1.1,1)" font-size="12.3" font-weight="bold" fill="#111">ppm</text>
<line x1="314.60" y1="551.00" x2="315.80" y2="551.00" stroke="#555" stroke-width="0.9"/>
<line x1="314.60" y1="576.10" x2="315.80" y2="576.10" stroke="#555" stroke-width="0.9"/>
<line x1="314.60" y1="601.20" x2="315.80" y2="601.20" stroke="#555" stroke-width="0.9"/>
<line x1="314.60" y1="626.30" x2="315.80" y2="626.30" stroke="#555" stroke-width="0.9"/>
<line x1="314.60" y1="651.40" x2="316.80" y2="651.40" stroke="#555" stroke-width="0.9"/>
<line x1="314.60" y1="676.50" x2="315.80" y2="676.50" stroke="#555" stroke-width="0.9"/>
<line x1="314.60" y1="701.60" x2="315.80" y2="701.60" stroke="#555" stroke-width="0.9"/>
<line x1="314.60" y1="726.70" x2="315.80" y2="726.70" stroke="#555" stroke-width="0.9"/>
<line x1="314.60" y1="751.80" x2="315.80" y2="751.80" stroke="#555" stroke-width="0.9"/>
<line x1="314.60" y1="776.90" x2="316.80" y2="776.90" stroke="#555" stroke-width="0.9"/>
<line x1="314.60" y1="802.00" x2="315.80" y2="802.00" stroke="#555" stroke-width="0.9"/>
<line x1="314.60" y1="827.10" x2="315.80" y2="827.10" stroke="#555" stroke-width="0.9"/>
<line x1="314.60" y1="852.20" x2="315.80" y2="852.20" stroke="#555" stroke-width="0.9"/>
<line x1="314.60" y1="877.30" x2="315.80" y2="877.30" stroke="#555" stroke-width="0.9"/>
<text transform="translate(319.60,655.80) scale(1.12,1)" font-size="12.3" font-weight="bold" fill="#111" letter-spacing="-0.6">110</text>
<text transform="translate(319.60,781.30) scale(1.12,1)" font-size="12.3" font-weight="bold" fill="#111" letter-spacing="-0.6">115</text>
<text transform="translate(318.20,530.80) scale(1.08,1)" font-size="12.3" font-weight="bold" fill="#111">ppm</text>
<rect x="347.50" y="525.50" width="301.70" height="376.50" fill="none" stroke="#555" stroke-width="1.2"/>
<line x1="361.21" y1="902.00" x2="361.21" y2="900.40" stroke="#666" stroke-width="0.8"/>
<line x1="374.93" y1="902.00" x2="374.93" y2="900.40" stroke="#666" stroke-width="0.8"/>
<line x1="388.64" y1="902.00" x2="388.64" y2="900.40" stroke="#666" stroke-width="0.8"/>
<line x1="402.35" y1="902.00" x2="402.35" y2="900.40" stroke="#666" stroke-width="0.8"/>
<line x1="416.07" y1="902.00" x2="416.07" y2="900.40" stroke="#666" stroke-width="0.8"/>
<line x1="429.78" y1="902.00" x2="429.78" y2="900.40" stroke="#666" stroke-width="0.8"/>
<line x1="443.50" y1="902.00" x2="443.50" y2="900.40" stroke="#666" stroke-width="0.8"/>
<line x1="457.21" y1="902.00" x2="457.21" y2="900.40" stroke="#666" stroke-width="0.8"/>
<line x1="470.92" y1="902.00" x2="470.92" y2="900.40" stroke="#666" stroke-width="0.8"/>
<line x1="484.64" y1="902.00" x2="484.64" y2="900.40" stroke="#666" stroke-width="0.8"/>
<line x1="498.35" y1="902.00" x2="498.35" y2="900.40" stroke="#666" stroke-width="0.8"/>
<line x1="512.06" y1="902.00" x2="512.06" y2="900.40" stroke="#666" stroke-width="0.8"/>
<line x1="525.78" y1="902.00" x2="525.78" y2="900.40" stroke="#666" stroke-width="0.8"/>
<line x1="539.49" y1="902.00" x2="539.49" y2="900.40" stroke="#666" stroke-width="0.8"/>
<line x1="553.20" y1="902.00" x2="553.20" y2="900.40" stroke="#666" stroke-width="0.8"/>
<line x1="566.92" y1="902.00" x2="566.92" y2="900.40" stroke="#666" stroke-width="0.8"/>
<line x1="580.63" y1="902.00" x2="580.63" y2="900.40" stroke="#666" stroke-width="0.8"/>
<line x1="594.35" y1="902.00" x2="594.35" y2="900.40" stroke="#666" stroke-width="0.8"/>
<line x1="608.06" y1="902.00" x2="608.06" y2="900.40" stroke="#666" stroke-width="0.8"/>
<line x1="621.77" y1="902.00" x2="621.77" y2="900.40" stroke="#666" stroke-width="0.8"/>
<line x1="635.49" y1="902.00" x2="635.49" y2="900.40" stroke="#666" stroke-width="0.8"/>
<text transform="translate(347.70,915.80) scale(1.1,1)" font-size="12.3" font-weight="bold" text-anchor="middle" fill="#111">7.2</text>
<text transform="translate(402.55,915.80) scale(1.1,1)" font-size="12.3" font-weight="bold" text-anchor="middle" fill="#111">7.0</text>
<text transform="translate(457.41,915.80) scale(1.1,1)" font-size="12.3" font-weight="bold" text-anchor="middle" fill="#111">6.8</text>
<text transform="translate(512.26,915.80) scale(1.1,1)" font-size="12.3" font-weight="bold" text-anchor="middle" fill="#111">6.6</text>
<text transform="translate(567.12,915.80) scale(1.1,1)" font-size="12.3" font-weight="bold" text-anchor="middle" fill="#111">6.4</text>
<text transform="translate(621.97,915.80) scale(1.1,1)" font-size="12.3" font-weight="bold" text-anchor="middle" fill="#111">6.2</text>
<text transform="translate(636.00,915.80) scale(1.1,1)" font-size="12.3" font-weight="bold" fill="#111">ppm</text>
<line x1="649.20" y1="551.00" x2="650.40" y2="551.00" stroke="#555" stroke-width="0.9"/>
<line x1="649.20" y1="576.10" x2="650.40" y2="576.10" stroke="#555" stroke-width="0.9"/>
<line x1="649.20" y1="601.20" x2="650.40" y2="601.20" stroke="#555" stroke-width="0.9"/>
<line x1="649.20" y1="626.30" x2="650.40" y2="626.30" stroke="#555" stroke-width="0.9"/>
<line x1="649.20" y1="651.40" x2="651.40" y2="651.40" stroke="#555" stroke-width="0.9"/>
<line x1="649.20" y1="676.50" x2="650.40" y2="676.50" stroke="#555" stroke-width="0.9"/>
<line x1="649.20" y1="701.60" x2="650.40" y2="701.60" stroke="#555" stroke-width="0.9"/>
<line x1="649.20" y1="726.70" x2="650.40" y2="726.70" stroke="#555" stroke-width="0.9"/>
<line x1="649.20" y1="751.80" x2="650.40" y2="751.80" stroke="#555" stroke-width="0.9"/>
<line x1="649.20" y1="776.90" x2="651.40" y2="776.90" stroke="#555" stroke-width="0.9"/>
<line x1="649.20" y1="802.00" x2="650.40" y2="802.00" stroke="#555" stroke-width="0.9"/>
<line x1="649.20" y1="827.10" x2="650.40" y2="827.10" stroke="#555" stroke-width="0.9"/>
<line x1="649.20" y1="852.20" x2="650.40" y2="852.20" stroke="#555" stroke-width="0.9"/>
<line x1="649.20" y1="877.30" x2="650.40" y2="877.30" stroke="#555" stroke-width="0.9"/>
<text transform="translate(654.20,655.80) scale(1.12,1)" font-size="12.3" font-weight="bold" fill="#111" letter-spacing="-0.6">110</text>
<text transform="translate(654.20,781.30) scale(1.12,1)" font-size="12.3" font-weight="bold" fill="#111" letter-spacing="-0.6">115</text>
<text transform="translate(655.00,532.80) scale(1.08,1)" font-size="12.3" font-weight="bold" fill="#111">ppm</text>
<ellipse cx="150.10" cy="758.80" rx="3.50" ry="2.00" fill="#fbe6dc" stroke="#f0a080" stroke-width="1.30"/>
<polygon points="150.50,759.00 186.40,753.30 186.40,758.50" fill="#000"/>
<circle cx="150.10" cy="758.80" r="1.0" fill="#111"/>
<text transform="translate(187.50,759.80) scale(1.120,1)" font-size="12.3" font-weight="bold" fill="#111">2PheN-NH</text>
<ellipse cx="157.10" cy="790.10" rx="4.00" ry="1.60" fill="#fbe6dc" stroke="#f0a080" stroke-width="1.30"/>
<polygon points="157.50,790.30 179.80,785.30 179.80,790.10" fill="#000"/>
<circle cx="157.10" cy="790.10" r="1.0" fill="#111"/>
<text transform="translate(182.30,791.50) scale(1.120,1)" font-size="12.3" font-weight="bold" fill="#111">4PheN-NH</text>
<ellipse cx="483.00" cy="641.30" rx="4.40" ry="2.00" fill="#fbe6dc" stroke="#f0a080" stroke-width="1.30"/>
<polygon points="483.00,641.30 502.70,625.50 502.70,630.50" fill="#000"/>
<circle cx="483.00" cy="641.30" r="1.0" fill="#111"/>
<text transform="translate(504.70,629.60) scale(1.120,1)" font-size="12.3" font-weight="bold" fill="#111">U-2PheN-NH</text>
<ellipse cx="504.90" cy="768.60" rx="5.30" ry="1.90" fill="#fbe6dc" stroke="#f0a080" stroke-width="1.30"/>
<polygon points="504.90,768.60 517.20,750.50 522.70,750.50" fill="#000"/>
<circle cx="504.90" cy="768.60" r="1.0" fill="#111"/>
<text transform="translate(515.80,746.20) scale(1.120,1)" font-size="12.3" font-weight="bold" fill="#111">U-4PheN-NH</text>
<ellipse cx="395.80" cy="852.10" rx="7.00" ry="2.30" fill="#f8d2c2" stroke="#ec8160" stroke-width="1.60"/>
<polygon points="395.80,852.10 412.20,835.10 412.20,840.50" fill="#000"/>
<circle cx="395.80" cy="852.10" r="1.0" fill="#111"/>
<text transform="translate(414.20,837.30) scale(1.067,1)" font-size="12.3" font-weight="bold" fill="#111">S-2PheN-NH</text>
</svg></body></html>
